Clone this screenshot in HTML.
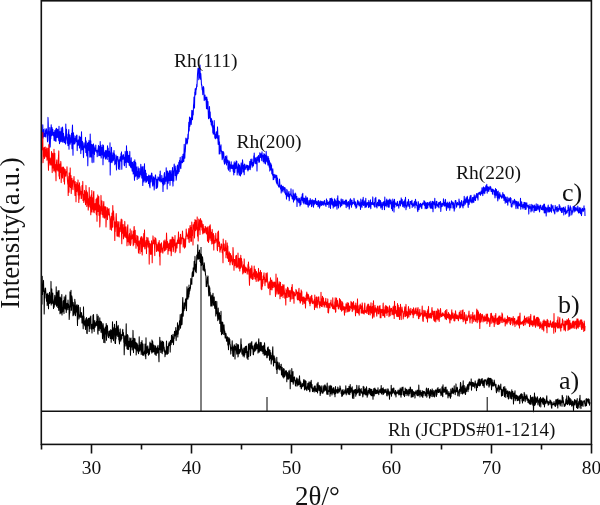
<!DOCTYPE html>
<html><head><meta charset="utf-8"><style>
html,body{margin:0;padding:0;background:#fff;}
svg{display:block;}
text{font-family:"Liberation Serif","Times New Roman",serif;fill:#111;}
</style></head><body>
<svg width="600" height="505" viewBox="0 0 600 505">
<rect width="600" height="505" fill="#fff"/>
<g stroke="#000" stroke-width="1">
<line x1="201" y1="247" x2="201" y2="411"/>
<line x1="267" y1="397" x2="267" y2="411"/>
<line x1="487.2" y1="397" x2="487.2" y2="411"/>
</g>
<g fill="none" stroke-width="1.05" stroke-linejoin="round">
<polyline stroke="#0000ff" points="42.0,134.6 42.2,137.6 42.5,134.7 42.8,124.7 43.0,138.3 43.2,135.6 43.5,129.6 43.8,136.5 44.0,135.2 44.2,134.9 44.5,133.3 44.8,136.6 45.0,128.7 45.2,132.3 45.5,130.4 45.8,137.1 46.0,133.7 46.2,131.8 46.5,128.8 46.8,132.1 47.0,133.8 47.2,132.1 47.5,141.8 47.8,140.1 48.0,117.4 48.2,122.5 48.5,133.0 48.8,131.6 49.0,135.5 49.2,135.6 49.5,147.3 49.8,127.6 50.0,132.1 50.2,147.0 50.5,138.5 50.8,138.7 51.0,131.5 51.2,124.7 51.5,135.8 51.8,135.5 52.0,127.4 52.2,130.8 52.5,134.6 52.8,129.3 53.0,134.5 53.2,135.7 53.5,135.4 53.8,132.2 54.0,138.9 54.2,140.8 54.5,137.4 54.8,130.5 55.0,140.0 55.2,132.5 55.5,140.9 55.8,129.1 56.0,141.3 56.2,135.6 56.5,128.2 56.8,133.9 57.0,136.2 57.2,137.6 57.5,130.0 57.8,129.3 58.0,137.3 58.2,133.3 58.5,137.6 58.8,140.8 59.0,126.2 59.2,137.8 59.5,143.7 59.8,134.6 60.0,131.5 60.2,141.0 60.5,138.0 60.8,142.0 61.0,134.5 61.2,127.7 61.5,136.0 61.8,134.1 62.0,141.5 62.2,138.0 62.5,127.1 62.8,129.7 63.0,142.4 63.2,141.2 63.5,133.3 63.8,137.2 64.0,139.9 64.2,140.1 64.5,142.7 64.8,139.0 65.0,136.9 65.2,136.0 65.5,144.0 65.8,124.1 66.0,136.9 66.2,138.0 66.5,129.3 66.8,140.0 67.0,134.1 67.2,143.3 67.5,137.4 67.8,142.3 68.0,145.7 68.2,140.7 68.5,133.2 68.8,129.5 69.0,149.2 69.2,138.1 69.5,134.7 69.8,139.8 70.0,137.8 70.2,144.2 70.5,139.4 70.8,139.3 71.0,135.1 71.2,142.2 71.5,133.3 71.8,143.6 72.0,148.8 72.2,130.7 72.5,125.1 72.8,143.7 73.0,155.3 73.2,134.2 73.5,132.8 73.8,143.9 74.0,135.5 74.2,137.6 74.5,138.6 74.8,144.0 75.0,138.5 75.2,142.7 75.5,140.1 75.8,136.2 76.0,139.4 76.2,135.8 76.5,141.6 76.8,135.0 77.0,135.3 77.2,150.6 77.5,141.7 77.8,141.8 78.0,145.3 78.2,139.9 78.5,141.1 78.8,145.2 79.0,144.5 79.2,136.0 79.5,148.0 79.8,139.7 80.0,137.1 80.2,138.2 80.5,141.4 80.8,153.6 81.0,137.1 81.2,145.2 81.5,131.7 81.8,144.6 82.0,150.1 82.2,143.5 82.5,141.4 82.8,146.7 83.0,149.7 83.2,149.6 83.5,157.6 83.8,147.3 84.0,142.7 84.2,145.7 84.5,146.2 84.8,147.4 85.0,146.8 85.2,148.2 85.5,137.4 85.8,152.4 86.0,144.3 86.2,140.9 86.5,151.8 86.8,156.0 87.0,151.3 87.2,149.5 87.5,143.2 87.8,165.8 88.0,154.2 88.2,142.4 88.5,144.7 88.8,149.9 89.0,140.4 89.2,150.6 89.5,147.1 89.8,157.1 90.0,155.7 90.2,134.1 90.5,150.5 90.8,140.8 91.0,156.9 91.2,151.5 91.5,153.8 91.8,144.4 92.0,161.5 92.2,162.7 92.5,144.7 92.8,153.2 93.0,147.2 93.2,151.1 93.5,143.9 93.8,162.3 94.0,145.8 94.2,149.8 94.5,154.5 94.8,147.9 95.0,150.3 95.2,148.5 95.5,151.1 95.8,145.1 96.0,149.5 96.2,150.9 96.5,150.2 96.8,152.6 97.0,150.6 97.2,156.8 97.5,150.6 97.8,151.7 98.0,148.7 98.2,149.6 98.5,145.4 98.8,155.8 99.0,146.2 99.2,148.6 99.5,155.1 99.8,155.5 100.0,150.9 100.2,141.5 100.5,155.8 100.8,154.9 101.0,145.3 101.2,158.1 101.5,149.6 101.8,147.2 102.0,154.4 102.2,152.9 102.5,155.2 102.8,144.7 103.0,164.7 103.2,150.8 103.5,145.4 103.8,158.1 104.0,152.5 104.2,156.5 104.5,152.8 104.8,154.5 105.0,156.4 105.2,150.7 105.5,159.1 105.8,152.5 106.0,150.3 106.2,155.9 106.5,158.1 106.8,154.3 107.0,150.7 107.2,159.4 107.5,145.7 107.8,150.0 108.0,156.3 108.2,148.3 108.5,156.5 108.8,156.1 109.0,161.7 109.2,151.3 109.5,153.1 109.8,158.8 110.0,142.7 110.2,174.9 110.5,153.1 110.8,153.0 111.0,162.3 111.2,157.2 111.5,147.3 111.8,161.3 112.0,162.7 112.2,155.3 112.5,156.3 112.8,160.9 113.0,152.9 113.2,160.8 113.5,159.5 113.8,154.6 114.0,150.6 114.2,157.4 114.5,153.8 114.8,164.7 115.0,159.8 115.2,163.6 115.5,160.0 115.8,160.9 116.0,155.0 116.2,163.4 116.5,170.0 116.8,158.1 117.0,156.6 117.2,159.2 117.5,157.5 117.8,156.4 118.0,161.3 118.2,159.0 118.5,169.1 118.8,160.9 119.0,162.9 119.2,166.6 119.5,159.5 119.8,169.5 120.0,157.8 120.2,156.8 120.5,159.4 120.8,160.8 121.0,153.5 121.2,161.3 121.5,151.9 121.8,169.3 122.0,160.8 122.2,157.5 122.5,155.8 122.8,158.6 123.0,159.3 123.2,154.5 123.5,155.0 123.8,158.9 124.0,156.9 124.2,164.9 124.5,165.8 124.8,159.3 125.0,161.7 125.2,151.4 125.5,162.4 125.8,158.5 126.0,161.3 126.2,167.5 126.5,145.7 126.8,160.0 127.0,152.4 127.2,162.0 127.5,151.4 127.8,156.2 128.0,160.3 128.2,162.8 128.5,160.0 128.8,155.4 129.0,156.9 129.2,165.2 129.5,160.5 129.8,151.4 130.0,165.8 130.2,163.9 130.5,166.9 130.8,160.7 131.0,167.7 131.2,157.8 131.5,167.4 131.8,162.0 132.0,169.0 132.2,171.3 132.5,162.2 132.8,166.4 133.0,167.2 133.2,173.9 133.5,171.5 133.8,161.2 134.0,170.7 134.2,172.5 134.5,180.3 134.8,159.7 135.0,166.2 135.2,176.7 135.5,162.2 135.8,163.3 136.0,172.9 136.2,175.9 136.5,166.9 136.8,173.7 137.0,171.6 137.2,179.4 137.5,171.3 137.8,176.9 138.0,166.8 138.2,170.8 138.5,171.5 138.8,178.4 139.0,175.5 139.2,168.4 139.5,176.4 139.8,177.0 140.0,172.4 140.2,171.8 140.5,172.3 140.8,164.3 141.0,174.7 141.2,175.1 141.5,169.3 141.8,178.1 142.0,166.9 142.2,171.5 142.5,172.1 142.8,185.4 143.0,166.4 143.2,178.1 143.5,180.3 143.8,177.5 144.0,181.9 144.2,170.4 144.5,163.8 144.8,180.2 145.0,169.9 145.2,174.7 145.5,170.3 145.8,182.3 146.0,181.4 146.2,173.2 146.5,181.9 146.8,177.9 147.0,176.7 147.2,177.8 147.5,176.6 147.8,181.0 148.0,179.5 148.2,176.2 148.5,183.4 148.8,175.0 149.0,179.8 149.2,180.6 149.5,186.2 149.8,175.9 150.0,187.8 150.2,179.6 150.5,177.7 150.8,175.3 151.0,181.9 151.2,179.2 151.5,173.2 151.8,173.1 152.0,176.1 152.2,175.5 152.5,184.7 152.8,186.1 153.0,183.5 153.2,180.9 153.5,176.8 153.8,179.3 154.0,183.6 154.2,190.0 154.5,183.7 154.8,177.5 155.0,179.2 155.2,176.5 155.5,174.9 155.8,178.0 156.0,180.0 156.2,188.4 156.5,179.2 156.8,185.9 157.0,188.0 157.2,179.3 157.5,187.2 157.8,182.6 158.0,176.8 158.2,180.2 158.5,179.0 158.8,177.7 159.0,177.9 159.2,179.6 159.5,181.1 159.8,174.3 160.0,178.8 160.2,171.1 160.5,180.1 160.8,181.9 161.0,179.6 161.2,180.2 161.5,181.7 161.8,175.4 162.0,177.5 162.2,181.3 162.5,183.7 162.8,180.7 163.0,191.5 163.2,178.2 163.5,183.6 163.8,185.0 164.0,177.9 164.2,174.4 164.5,172.6 164.8,179.3 165.0,184.1 165.2,179.8 165.5,179.3 165.8,176.5 166.0,181.2 166.2,167.7 166.5,179.4 166.8,178.3 167.0,171.3 167.2,188.9 167.5,171.1 167.8,172.5 168.0,171.9 168.2,183.2 168.5,173.2 168.8,180.8 169.0,180.3 169.2,178.6 169.5,170.8 169.8,174.1 170.0,185.2 170.2,170.5 170.5,172.7 170.8,175.8 171.0,180.4 171.2,177.5 171.5,179.8 171.8,170.7 172.0,180.4 172.2,178.3 172.5,167.6 172.8,182.7 173.0,186.1 173.2,171.0 173.5,174.7 173.8,181.0 174.0,166.8 174.2,164.1 174.5,167.2 174.8,170.5 175.0,170.1 175.2,175.6 175.5,173.6 175.8,166.1 176.0,174.4 176.2,180.3 176.5,176.7 176.8,175.3 177.0,170.4 177.2,174.5 177.5,165.0 177.8,172.6 178.0,168.3 178.2,173.4 178.5,169.9 178.8,162.3 179.0,167.4 179.2,171.8 179.5,160.6 179.8,162.7 180.0,161.2 180.2,157.3 180.5,167.8 180.8,168.7 181.0,165.8 181.2,162.7 181.5,160.8 181.8,161.4 182.0,156.4 182.2,162.8 182.5,162.6 182.8,161.3 183.0,154.2 183.2,156.0 183.5,154.1 183.8,161.6 184.0,153.8 184.2,144.3 184.5,153.0 184.8,158.2 185.0,152.3 185.2,152.1 185.5,147.7 185.8,138.4 186.0,138.1 186.2,139.4 186.5,142.9 186.8,143.6 187.0,144.1 187.2,138.9 187.5,142.9 187.8,136.8 188.0,134.0 188.2,139.0 188.5,130.7 188.8,122.3 189.0,127.6 189.2,130.9 189.5,117.0 189.8,126.5 190.0,125.2 190.2,119.5 190.5,117.9 190.8,120.5 191.0,118.8 191.2,124.5 191.5,119.6 191.8,110.4 192.0,111.8 192.2,116.5 192.5,119.7 192.8,112.2 193.0,110.4 193.2,114.9 193.5,105.9 193.8,103.1 194.0,97.1 194.2,99.0 194.5,108.0 194.8,92.0 195.0,96.0 195.2,88.7 195.5,93.1 195.8,94.4 196.0,88.1 196.2,89.9 196.5,87.6 196.8,84.1 197.0,86.8 197.2,80.7 197.5,74.2 197.8,70.7 198.0,68.4 198.2,72.2 198.5,68.1 198.8,79.8 199.0,76.4 199.2,68.7 199.5,69.0 199.8,78.0 200.0,65.1 200.2,72.2 200.5,79.3 200.8,73.6 201.0,77.1 201.2,79.4 201.5,85.2 201.8,84.8 202.0,87.6 202.2,89.9 202.5,89.1 202.8,94.7 203.0,88.5 203.2,86.8 203.5,86.5 203.8,88.1 204.0,93.4 204.2,100.6 204.5,98.2 204.8,96.1 205.0,95.1 205.2,98.2 205.5,99.6 205.8,99.9 206.0,97.3 206.2,102.0 206.5,108.8 206.8,97.0 207.0,105.5 207.2,98.9 207.5,108.9 207.8,106.1 208.0,101.6 208.2,111.1 208.5,118.8 208.8,112.9 209.0,117.9 209.2,113.9 209.5,106.5 209.8,117.9 210.0,115.2 210.2,111.9 210.5,121.7 210.8,120.6 211.0,118.3 211.2,124.7 211.5,118.7 211.8,125.6 212.0,120.1 212.2,126.9 212.5,121.2 212.8,132.5 213.0,128.4 213.2,134.0 213.5,125.8 213.8,128.0 214.0,134.1 214.2,120.6 214.5,128.1 214.8,137.4 215.0,135.9 215.2,138.8 215.5,134.4 215.8,138.6 216.0,134.2 216.2,132.3 216.5,131.7 216.8,137.1 217.0,137.8 217.2,138.1 217.5,126.9 217.8,133.8 218.0,140.4 218.2,144.4 218.5,141.5 218.8,140.8 219.0,135.6 219.2,153.9 219.5,141.7 219.8,153.6 220.0,153.7 220.2,149.0 220.5,146.1 220.8,149.6 221.0,144.8 221.2,151.3 221.5,150.8 221.8,153.6 222.0,155.9 222.2,159.8 222.5,151.7 222.8,158.3 223.0,151.4 223.2,151.7 223.5,153.6 223.8,152.8 224.0,161.6 224.2,162.1 224.5,164.2 224.8,159.4 225.0,161.2 225.2,158.1 225.5,156.2 225.8,163.3 226.0,162.9 226.2,157.6 226.5,165.0 226.8,155.8 227.0,162.6 227.2,161.2 227.5,161.9 227.8,160.0 228.0,168.7 228.2,167.4 228.5,170.2 228.8,166.2 229.0,160.7 229.2,164.7 229.5,161.7 229.8,168.5 230.0,171.7 230.2,168.3 230.5,164.8 230.8,165.9 231.0,168.3 231.2,161.8 231.5,168.2 231.8,168.5 232.0,165.7 232.2,166.3 232.5,168.7 232.8,164.9 233.0,165.0 233.2,171.3 233.5,169.3 233.8,175.0 234.0,164.8 234.2,161.8 234.5,172.3 234.8,172.4 235.0,166.0 235.2,163.3 235.5,168.8 235.8,162.4 236.0,167.8 236.2,160.9 236.5,168.3 236.8,161.2 237.0,168.3 237.2,174.9 237.5,168.3 237.8,172.2 238.0,167.0 238.2,166.0 238.5,163.8 238.8,173.2 239.0,169.1 239.2,175.3 239.5,165.0 239.8,168.5 240.0,169.6 240.2,174.4 240.5,175.9 240.8,166.9 241.0,165.1 241.2,162.9 241.5,173.9 241.8,168.8 242.0,166.7 242.2,168.8 242.5,159.7 242.8,162.7 243.0,172.1 243.2,170.2 243.5,169.2 243.8,165.0 244.0,170.6 244.2,174.8 244.5,164.0 244.8,168.4 245.0,166.7 245.2,169.4 245.5,168.1 245.8,167.5 246.0,164.8 246.2,167.8 246.5,165.6 246.8,167.1 247.0,167.3 247.2,169.7 247.5,165.3 247.8,166.1 248.0,170.9 248.2,166.2 248.5,165.9 248.8,169.6 249.0,167.4 249.2,166.5 249.5,166.7 249.8,161.4 250.0,167.0 250.2,169.8 250.5,166.9 250.8,159.2 251.0,165.3 251.2,160.9 251.5,162.9 251.8,163.8 252.0,158.9 252.2,167.3 252.5,162.2 252.8,164.8 253.0,163.9 253.2,166.0 253.5,165.2 253.8,155.9 254.0,160.7 254.2,153.1 254.5,158.6 254.8,162.3 255.0,162.7 255.2,163.8 255.5,157.9 255.8,160.1 256.0,159.2 256.2,163.0 256.5,163.9 256.8,157.3 257.0,171.0 257.2,158.2 257.5,156.8 257.8,159.9 258.0,160.3 258.2,159.5 258.5,155.4 258.8,162.3 259.0,157.5 259.2,162.3 259.5,161.7 259.8,152.7 260.0,153.6 260.2,153.4 260.5,157.4 260.8,156.7 261.0,157.3 261.2,153.7 261.5,157.7 261.8,160.8 262.0,151.8 262.2,155.5 262.5,156.9 262.8,155.6 263.0,155.3 263.2,161.7 263.5,160.1 263.8,158.7 264.0,153.5 264.2,163.3 264.5,157.4 264.8,154.5 265.0,155.5 265.2,155.3 265.5,164.0 265.8,158.2 266.0,158.1 266.2,151.4 266.5,161.1 266.8,155.8 267.0,156.1 267.2,162.1 267.5,158.0 267.8,163.9 268.0,165.3 268.2,156.6 268.5,162.4 268.8,158.4 269.0,163.7 269.2,167.3 269.5,160.7 269.8,171.1 270.0,165.0 270.2,162.8 270.5,166.6 270.8,170.0 271.0,163.8 271.2,168.8 271.5,165.1 271.8,173.8 272.0,171.2 272.2,170.0 272.5,175.2 272.8,168.7 273.0,172.1 273.2,179.7 273.5,174.2 273.8,179.4 274.0,176.4 274.2,174.2 274.5,176.2 274.8,177.7 275.0,176.7 275.2,175.9 275.5,176.5 275.8,174.8 276.0,180.1 276.2,181.4 276.5,182.9 276.8,175.6 277.0,183.9 277.2,181.8 277.5,178.0 277.8,183.0 278.0,185.5 278.2,185.0 278.5,186.0 278.8,187.0 279.0,187.2 279.2,184.8 279.5,179.1 279.8,183.4 280.0,187.0 280.2,184.9 280.5,188.7 280.8,189.3 281.0,187.4 281.2,193.1 281.5,185.0 281.8,190.9 282.0,187.0 282.2,186.4 282.5,190.7 282.8,187.4 283.0,192.0 283.2,186.3 283.5,190.0 283.8,187.7 284.0,189.7 284.2,189.5 284.5,187.6 284.8,193.0 285.0,187.7 285.2,188.6 285.5,194.3 285.8,194.7 286.0,194.0 286.2,193.3 286.5,199.1 286.8,189.2 287.0,190.7 287.2,190.2 287.5,195.8 287.8,194.2 288.0,196.8 288.2,196.6 288.5,193.3 288.8,191.8 289.0,191.4 289.2,200.8 289.5,197.4 289.8,196.5 290.0,194.0 290.2,194.6 290.5,194.3 290.8,194.5 291.0,188.8 291.2,195.6 291.5,194.9 291.8,196.9 292.0,196.9 292.2,198.9 292.5,196.6 292.8,199.0 293.0,189.7 293.2,194.0 293.5,202.1 293.8,194.0 294.0,196.8 294.2,199.7 294.5,195.4 294.8,200.1 295.0,194.2 295.2,193.0 295.5,194.8 295.8,194.0 296.0,198.7 296.2,198.0 296.5,200.0 296.8,196.3 297.0,206.4 297.2,199.2 297.5,199.4 297.8,200.9 298.0,199.1 298.2,198.1 298.5,200.2 298.8,202.6 299.0,202.0 299.2,202.8 299.5,198.8 299.8,198.3 300.0,206.0 300.2,199.9 300.5,201.9 300.8,202.7 301.0,204.6 301.2,197.1 301.5,199.5 301.8,199.7 302.0,200.1 302.2,194.4 302.5,200.8 302.8,193.2 303.0,202.0 303.2,202.7 303.5,202.9 303.8,198.1 304.0,204.0 304.2,199.1 304.5,198.2 304.8,198.9 305.0,199.3 305.2,202.1 305.5,203.9 305.8,196.0 306.0,200.3 306.2,204.2 306.5,202.4 306.8,203.2 307.0,197.9 307.2,204.5 307.5,197.8 307.8,202.5 308.0,205.7 308.2,207.1 308.5,203.5 308.8,204.5 309.0,200.6 309.2,200.9 309.5,205.3 309.8,202.3 310.0,202.0 310.2,198.6 310.5,202.7 310.8,204.1 311.0,200.3 311.2,201.1 311.5,206.6 311.8,202.9 312.0,201.7 312.2,199.5 312.5,200.9 312.8,201.9 313.0,206.1 313.2,201.0 313.5,207.2 313.8,200.2 314.0,201.7 314.2,204.8 314.5,202.0 314.8,200.5 315.0,202.3 315.2,203.8 315.5,198.3 315.8,202.1 316.0,202.4 316.2,201.7 316.5,204.6 316.8,201.3 317.0,201.8 317.2,202.9 317.5,204.7 317.8,202.2 318.0,206.7 318.2,200.5 318.5,206.1 318.8,200.7 319.0,202.4 319.2,203.8 319.5,208.1 319.8,205.2 320.0,201.9 320.2,206.2 320.5,202.4 320.8,200.9 321.0,204.1 321.2,203.2 321.5,205.4 321.8,201.6 322.0,203.9 322.2,204.6 322.5,203.7 322.8,202.9 323.0,201.2 323.2,205.3 323.5,203.3 323.8,204.2 324.0,202.1 324.2,203.0 324.5,200.4 324.8,203.2 325.0,204.9 325.2,203.2 325.5,205.2 325.8,203.8 326.0,206.5 326.2,202.5 326.5,198.9 326.8,204.1 327.0,202.6 327.2,200.5 327.5,204.6 327.8,203.7 328.0,204.1 328.2,202.2 328.5,203.5 328.8,203.6 329.0,207.5 329.2,201.3 329.5,203.0 329.8,203.9 330.0,198.6 330.2,198.9 330.5,208.5 330.8,198.5 331.0,204.5 331.2,200.9 331.5,201.1 331.8,198.0 332.0,200.7 332.2,205.0 332.5,199.5 332.8,204.5 333.0,203.8 333.2,208.1 333.5,201.8 333.8,206.2 334.0,205.2 334.2,202.3 334.5,198.8 334.8,206.8 335.0,199.5 335.2,201.8 335.5,205.2 335.8,205.8 336.0,200.9 336.2,202.9 336.5,202.3 336.8,206.0 337.0,209.3 337.2,198.4 337.5,205.3 337.8,195.8 338.0,203.0 338.2,200.2 338.5,208.0 338.8,203.4 339.0,201.1 339.2,201.7 339.5,201.5 339.8,203.5 340.0,202.6 340.2,204.7 340.5,206.9 340.8,204.8 341.0,199.9 341.2,198.9 341.5,201.1 341.8,205.7 342.0,202.2 342.2,201.3 342.5,203.3 342.8,199.4 343.0,200.1 343.2,204.3 343.5,202.2 343.8,201.9 344.0,203.8 344.2,201.5 344.5,201.3 344.8,201.8 345.0,204.5 345.2,203.2 345.5,200.0 345.8,202.2 346.0,204.6 346.2,207.7 346.5,200.1 346.8,203.9 347.0,202.3 347.2,205.1 347.5,204.1 347.8,206.7 348.0,204.3 348.2,201.6 348.5,201.6 348.8,204.0 349.0,204.0 349.2,209.1 349.5,207.2 349.8,200.0 350.0,203.9 350.2,199.6 350.5,198.8 350.8,204.9 351.0,204.4 351.2,200.4 351.5,207.2 351.8,200.5 352.0,200.1 352.2,204.7 352.5,203.6 352.8,202.6 353.0,202.8 353.2,203.6 353.5,202.7 353.8,202.6 354.0,198.2 354.2,199.6 354.5,204.6 354.8,201.2 355.0,204.4 355.2,206.2 355.5,202.1 355.8,203.8 356.0,208.3 356.2,204.8 356.5,207.7 356.8,206.9 357.0,205.0 357.2,202.8 357.5,200.9 357.8,200.3 358.0,204.3 358.2,204.3 358.5,202.6 358.8,205.2 359.0,201.6 359.2,205.9 359.5,203.2 359.8,203.0 360.0,203.1 360.2,202.9 360.5,209.4 360.8,199.1 361.0,203.6 361.2,206.3 361.5,205.0 361.8,202.4 362.0,207.6 362.2,200.5 362.5,199.9 362.8,204.6 363.0,199.5 363.2,197.2 363.5,205.4 363.8,205.1 364.0,205.1 364.2,202.0 364.5,203.7 364.8,200.8 365.0,207.6 365.2,205.3 365.5,205.1 365.8,198.3 366.0,205.3 366.2,207.1 366.5,206.4 366.8,205.3 367.0,203.3 367.2,202.4 367.5,204.8 367.8,204.3 368.0,203.9 368.2,202.5 368.5,207.6 368.8,200.4 369.0,203.3 369.2,201.9 369.5,206.0 369.8,207.0 370.0,206.5 370.2,205.3 370.5,199.8 370.8,208.7 371.0,204.7 371.2,203.1 371.5,203.5 371.8,202.6 372.0,204.5 372.2,204.2 372.5,202.5 372.8,196.9 373.0,203.4 373.2,204.7 373.5,204.8 373.8,203.1 374.0,204.6 374.2,206.1 374.5,202.3 374.8,207.2 375.0,198.6 375.2,200.3 375.5,201.2 375.8,197.3 376.0,201.0 376.2,206.7 376.5,206.7 376.8,203.8 377.0,207.9 377.2,204.2 377.5,202.3 377.8,204.2 378.0,203.2 378.2,205.4 378.5,199.8 378.8,206.1 379.0,202.4 379.2,205.8 379.5,199.7 379.8,202.6 380.0,203.8 380.2,205.9 380.5,200.6 380.8,207.9 381.0,204.9 381.2,202.3 381.5,206.7 381.8,203.9 382.0,206.6 382.2,209.6 382.5,205.6 382.8,202.4 383.0,202.6 383.2,205.2 383.5,204.4 383.8,201.6 384.0,202.0 384.2,205.4 384.5,209.7 384.8,197.1 385.0,205.6 385.2,203.2 385.5,205.7 385.8,206.0 386.0,203.9 386.2,201.2 386.5,200.3 386.8,199.1 387.0,206.9 387.2,203.3 387.5,202.5 387.8,203.1 388.0,200.4 388.2,204.6 388.5,207.2 388.8,206.7 389.0,199.9 389.2,207.3 389.5,201.9 389.8,199.0 390.0,200.8 390.2,201.4 390.5,203.9 390.8,201.3 391.0,200.1 391.2,203.2 391.5,208.8 391.8,202.1 392.0,205.1 392.2,204.1 392.5,210.7 392.8,199.1 393.0,206.7 393.2,200.7 393.5,202.5 393.8,203.7 394.0,212.0 394.2,202.1 394.5,199.2 394.8,207.3 395.0,201.9 395.2,203.4 395.5,203.9 395.8,204.3 396.0,203.6 396.2,204.7 396.5,205.0 396.8,206.2 397.0,203.0 397.2,202.2 397.5,201.4 397.8,205.6 398.0,203.9 398.2,205.5 398.5,205.4 398.8,208.3 399.0,204.6 399.2,206.0 399.5,201.0 399.8,201.4 400.0,203.3 400.2,201.0 400.5,205.9 400.8,200.7 401.0,204.3 401.2,197.9 401.5,201.3 401.8,203.3 402.0,203.5 402.2,199.6 402.5,204.4 402.8,206.6 403.0,205.8 403.2,202.5 403.5,202.7 403.8,201.2 404.0,205.8 404.2,207.8 404.5,202.9 404.8,199.9 405.0,204.7 405.2,206.0 405.5,197.3 405.8,204.6 406.0,209.7 406.2,206.3 406.5,205.6 406.8,205.2 407.0,206.9 407.2,201.8 407.5,202.1 407.8,205.3 408.0,202.5 408.2,204.9 408.5,199.4 408.8,206.2 409.0,206.4 409.2,204.4 409.5,204.7 409.8,208.4 410.0,201.5 410.2,202.0 410.5,201.5 410.8,203.2 411.0,201.7 411.2,204.4 411.5,202.7 411.8,200.6 412.0,200.4 412.2,207.4 412.5,204.1 412.8,203.7 413.0,204.4 413.2,204.1 413.5,206.2 413.8,205.8 414.0,202.9 414.2,202.3 414.5,201.6 414.8,201.2 415.0,207.9 415.2,202.0 415.5,199.3 415.8,202.2 416.0,202.4 416.2,205.2 416.5,202.1 416.8,205.7 417.0,205.4 417.2,207.6 417.5,209.9 417.8,211.6 418.0,207.8 418.2,201.5 418.5,203.4 418.8,205.1 419.0,209.7 419.2,206.1 419.5,207.5 419.8,204.0 420.0,205.9 420.2,206.3 420.5,203.3 420.8,206.4 421.0,207.2 421.2,204.1 421.5,207.0 421.8,208.6 422.0,204.6 422.2,204.5 422.5,203.7 422.8,202.9 423.0,204.9 423.2,203.5 423.5,203.7 423.8,202.6 424.0,200.6 424.2,202.2 424.5,205.4 424.8,201.5 425.0,202.9 425.2,208.7 425.5,207.4 425.8,202.8 426.0,206.1 426.2,202.9 426.5,208.7 426.8,203.1 427.0,204.8 427.2,208.1 427.5,202.5 427.8,207.9 428.0,202.5 428.2,205.2 428.5,203.9 428.8,204.4 429.0,205.0 429.2,204.4 429.5,202.1 429.8,206.8 430.0,206.5 430.2,207.9 430.5,208.2 430.8,201.3 431.0,207.9 431.2,208.0 431.5,203.3 431.8,207.3 432.0,208.4 432.2,203.3 432.5,201.2 432.8,203.8 433.0,211.8 433.2,205.3 433.5,201.7 433.8,204.1 434.0,202.2 434.2,203.7 434.5,205.0 434.8,198.3 435.0,205.7 435.2,208.4 435.5,204.3 435.8,203.8 436.0,207.6 436.2,201.6 436.5,201.7 436.8,201.3 437.0,204.4 437.2,205.8 437.5,204.6 437.8,206.2 438.0,206.9 438.2,206.1 438.5,202.8 438.8,204.2 439.0,208.0 439.2,202.2 439.5,204.2 439.8,203.8 440.0,204.4 440.2,202.2 440.5,201.5 440.8,211.4 441.0,207.3 441.2,203.1 441.5,204.8 441.8,206.6 442.0,204.1 442.2,206.5 442.5,203.4 442.8,204.0 443.0,204.7 443.2,203.8 443.5,198.7 443.8,205.0 444.0,205.6 444.2,206.2 444.5,202.4 444.8,205.8 445.0,205.5 445.2,200.5 445.5,199.4 445.8,206.2 446.0,202.6 446.2,207.5 446.5,210.4 446.8,203.5 447.0,203.2 447.2,205.0 447.5,206.7 447.8,202.1 448.0,208.1 448.2,207.5 448.5,206.7 448.8,203.6 449.0,207.3 449.2,207.2 449.5,202.0 449.8,210.3 450.0,204.2 450.2,205.9 450.5,203.7 450.8,206.0 451.0,207.9 451.2,202.9 451.5,200.8 451.8,203.8 452.0,201.6 452.2,203.0 452.5,204.6 452.8,204.7 453.0,208.1 453.2,202.3 453.5,205.7 453.8,203.5 454.0,208.2 454.2,211.1 454.5,205.5 454.8,208.9 455.0,203.3 455.2,200.5 455.5,201.3 455.8,200.5 456.0,202.0 456.2,203.8 456.5,207.3 456.8,206.1 457.0,205.5 457.2,203.2 457.5,202.4 457.8,204.2 458.0,204.4 458.2,204.7 458.5,204.9 458.8,203.6 459.0,199.0 459.2,201.0 459.5,201.7 459.8,208.0 460.0,202.5 460.2,205.3 460.5,207.2 460.8,204.3 461.0,202.4 461.2,202.6 461.5,200.6 461.8,203.9 462.0,205.9 462.2,204.5 462.5,204.9 462.8,204.7 463.0,207.9 463.2,201.1 463.5,203.1 463.8,204.4 464.0,205.7 464.2,196.3 464.5,201.0 464.8,201.7 465.0,199.6 465.2,204.3 465.5,202.6 465.8,201.0 466.0,197.7 466.2,198.5 466.5,199.2 466.8,202.8 467.0,198.5 467.2,196.2 467.5,197.7 467.8,199.8 468.0,205.5 468.2,207.5 468.5,199.8 468.8,203.4 469.0,204.4 469.2,204.1 469.5,200.4 469.8,197.3 470.0,199.3 470.2,195.7 470.5,200.9 470.8,202.1 471.0,195.2 471.2,199.8 471.5,200.5 471.8,202.8 472.0,203.0 472.2,201.4 472.5,197.5 472.8,198.1 473.0,202.0 473.2,197.2 473.5,198.5 473.8,202.4 474.0,198.6 474.2,194.7 474.5,197.2 474.8,199.4 475.0,197.2 475.2,200.4 475.5,200.5 475.8,195.5 476.0,195.7 476.2,196.5 476.5,193.5 476.8,197.4 477.0,195.8 477.2,198.0 477.5,194.3 477.8,193.5 478.0,200.1 478.2,193.1 478.5,193.6 478.8,193.1 479.0,194.0 479.2,192.2 479.5,194.2 479.8,192.3 480.0,192.9 480.2,194.6 480.5,195.2 480.8,194.4 481.0,191.1 481.2,193.8 481.5,192.2 481.8,192.0 482.0,187.7 482.2,193.5 482.5,191.2 482.8,195.6 483.0,192.6 483.2,187.9 483.5,186.9 483.8,192.9 484.0,187.3 484.2,190.9 484.5,187.9 484.8,193.6 485.0,188.1 485.2,191.3 485.5,190.5 485.8,185.7 486.0,185.9 486.2,190.3 486.5,186.5 486.8,184.3 487.0,189.7 487.2,193.2 487.5,186.8 487.8,190.6 488.0,186.9 488.2,190.9 488.5,187.1 488.8,191.4 489.0,189.6 489.2,188.0 489.5,189.3 489.8,187.5 490.0,186.3 490.2,186.6 490.5,189.3 490.8,187.0 491.0,191.0 491.2,191.4 491.5,191.4 491.8,189.1 492.0,190.7 492.2,190.7 492.5,194.3 492.8,189.1 493.0,190.3 493.2,190.9 493.5,191.3 493.8,189.9 494.0,190.4 494.2,194.8 494.5,190.7 494.8,194.9 495.0,197.9 495.2,196.1 495.5,188.5 495.8,195.2 496.0,194.6 496.2,194.9 496.5,189.6 496.8,195.8 497.0,191.3 497.2,197.5 497.5,197.1 497.8,201.0 498.0,193.7 498.2,191.0 498.5,197.6 498.8,197.3 499.0,194.3 499.2,198.9 499.5,197.3 499.8,192.5 500.0,195.0 500.2,194.9 500.5,195.9 500.8,196.8 501.0,194.7 501.2,196.1 501.5,198.2 501.8,196.7 502.0,196.3 502.2,196.4 502.5,197.0 502.8,192.6 503.0,198.0 503.2,195.1 503.5,198.1 503.8,194.3 504.0,200.5 504.2,198.9 504.5,195.0 504.8,199.1 505.0,196.7 505.2,203.3 505.5,200.2 505.8,197.0 506.0,199.7 506.2,199.2 506.5,202.5 506.8,200.5 507.0,201.0 507.2,197.0 507.5,201.9 507.8,205.3 508.0,201.8 508.2,200.2 508.5,200.8 508.8,198.1 509.0,201.1 509.2,198.0 509.5,201.0 509.8,200.0 510.0,199.0 510.2,202.7 510.5,197.6 510.8,201.4 511.0,198.3 511.2,206.4 511.5,206.9 511.8,204.2 512.0,206.9 512.2,203.8 512.5,203.7 512.8,201.4 513.0,200.3 513.2,203.0 513.5,201.5 513.8,201.8 514.0,204.9 514.2,202.9 514.5,199.3 514.8,202.9 515.0,201.6 515.2,202.9 515.5,200.9 515.8,206.9 516.0,208.7 516.2,201.2 516.5,205.8 516.8,205.7 517.0,201.6 517.2,204.6 517.5,208.0 517.8,206.7 518.0,208.7 518.2,201.7 518.5,202.9 518.8,205.6 519.0,205.8 519.2,205.0 519.5,204.1 519.8,204.1 520.0,203.6 520.2,206.3 520.5,198.3 520.8,209.3 521.0,204.0 521.2,201.8 521.5,206.8 521.8,201.9 522.0,206.5 522.2,204.6 522.5,207.1 522.8,207.7 523.0,209.0 523.2,204.5 523.5,205.0 523.8,205.8 524.0,202.3 524.2,207.4 524.5,206.3 524.8,202.6 525.0,209.1 525.2,209.5 525.5,202.8 525.8,207.6 526.0,209.3 526.2,208.3 526.5,203.8 526.8,202.7 527.0,206.0 527.2,205.1 527.5,206.4 527.8,206.2 528.0,207.8 528.2,205.1 528.5,206.1 528.8,214.1 529.0,206.2 529.2,208.5 529.5,207.4 529.8,207.2 530.0,204.4 530.2,208.1 530.5,206.6 530.8,208.9 531.0,212.0 531.2,207.3 531.5,208.8 531.8,204.3 532.0,207.2 532.2,210.9 532.5,206.8 532.8,205.4 533.0,207.6 533.2,206.6 533.5,206.5 533.8,206.2 534.0,212.2 534.2,205.0 534.5,206.2 534.8,205.8 535.0,210.4 535.2,206.6 535.5,210.6 535.8,207.8 536.0,207.3 536.2,203.7 536.5,210.5 536.8,208.8 537.0,208.5 537.2,207.2 537.5,206.5 537.8,204.3 538.0,209.9 538.2,208.3 538.5,206.7 538.8,206.0 539.0,207.9 539.2,207.4 539.5,211.9 539.8,209.7 540.0,206.2 540.2,205.0 540.5,207.2 540.8,205.5 541.0,208.0 541.2,208.9 541.5,209.5 541.8,209.0 542.0,207.5 542.2,209.5 542.5,205.8 542.8,207.8 543.0,210.1 543.2,208.8 543.5,204.9 543.8,205.2 544.0,204.1 544.2,212.8 544.5,204.3 544.8,207.9 545.0,212.9 545.2,211.0 545.5,211.7 545.8,207.1 546.0,210.3 546.2,216.1 546.5,208.4 546.8,209.5 547.0,207.7 547.2,208.5 547.5,209.5 547.8,212.1 548.0,206.3 548.2,205.0 548.5,208.7 548.8,209.2 549.0,212.3 549.2,210.5 549.5,207.2 549.8,210.2 550.0,211.6 550.2,209.6 550.5,208.0 550.8,210.6 551.0,208.0 551.2,204.2 551.5,212.3 551.8,205.7 552.0,208.2 552.2,208.2 552.5,208.2 552.8,208.4 553.0,205.4 553.2,210.4 553.5,209.2 553.8,209.3 554.0,211.9 554.2,212.0 554.5,212.6 554.8,213.9 555.0,210.4 555.2,205.4 555.5,209.9 555.8,209.4 556.0,209.5 556.2,207.9 556.5,207.2 556.8,211.4 557.0,211.9 557.2,206.6 557.5,210.9 557.8,209.1 558.0,208.5 558.2,211.3 558.5,209.4 558.8,208.2 559.0,209.7 559.2,204.6 559.5,208.1 559.8,208.5 560.0,206.1 560.2,210.1 560.5,210.4 560.8,208.2 561.0,209.3 561.2,211.4 561.5,212.4 561.8,207.8 562.0,210.6 562.2,212.4 562.5,209.7 562.8,207.9 563.0,207.9 563.2,209.0 563.5,207.2 563.8,215.0 564.0,208.4 564.2,210.9 564.5,210.4 564.8,211.5 565.0,209.0 565.2,206.7 565.5,214.1 565.8,209.8 566.0,210.3 566.2,210.5 566.5,213.2 566.8,211.9 567.0,213.0 567.2,212.1 567.5,210.4 567.8,210.7 568.0,208.2 568.2,205.2 568.5,209.5 568.8,207.4 569.0,216.6 569.2,214.0 569.5,213.1 569.8,208.7 570.0,215.3 570.2,205.8 570.5,207.1 570.8,208.2 571.0,207.7 571.2,210.5 571.5,210.7 571.8,215.0 572.0,212.7 572.2,213.3 572.5,211.3 572.8,209.9 573.0,208.5 573.2,206.4 573.5,208.1 573.8,209.3 574.0,212.2 574.2,206.0 574.5,206.8 574.8,210.9 575.0,207.7 575.2,211.2 575.5,209.3 575.8,208.4 576.0,207.0 576.2,210.1 576.5,208.5 576.8,208.8 577.0,208.8 577.2,210.9 577.5,210.8 577.8,206.1 578.0,210.0 578.2,211.4 578.5,213.0 578.8,212.4 579.0,211.0 579.2,207.5 579.5,208.5 579.8,212.8 580.0,208.7 580.2,213.0 580.5,213.7 580.8,207.8 581.0,211.6 581.2,210.2 581.5,215.6 581.8,212.6 582.0,209.2 582.2,211.5 582.5,208.2 582.8,210.1 583.0,211.0 583.2,210.9 583.5,211.3 583.8,208.2 584.0,205.8 584.2,209.6 584.5,208.2 584.8,208.7 585.0,215.9"/>
<polyline stroke="#ff0000" points="42.0,150.3 42.2,145.6 42.5,146.6 42.8,132.6 43.0,162.7 43.2,158.4 43.5,148.3 43.8,156.3 44.0,153.1 44.2,147.5 44.5,158.5 44.8,149.8 45.0,149.9 45.2,146.9 45.5,155.9 45.8,152.3 46.0,157.1 46.2,149.3 46.5,154.7 46.8,147.8 47.0,160.2 47.2,155.9 47.5,157.2 47.8,158.0 48.0,148.4 48.2,161.2 48.5,170.3 48.8,144.9 49.0,144.5 49.2,146.3 49.5,162.9 49.8,158.3 50.0,165.1 50.2,162.9 50.5,159.7 50.8,160.4 51.0,157.6 51.2,165.0 51.5,151.5 51.8,156.7 52.0,161.5 52.2,172.6 52.5,155.1 52.8,153.2 53.0,157.1 53.2,168.0 53.5,159.9 53.8,171.0 54.0,149.2 54.2,170.2 54.5,169.8 54.8,153.2 55.0,164.3 55.2,171.9 55.5,164.4 55.8,171.0 56.0,180.7 56.2,166.5 56.5,163.0 56.8,159.9 57.0,170.0 57.2,164.5 57.5,164.9 57.8,165.7 58.0,171.1 58.2,159.7 58.5,156.8 58.8,150.9 59.0,176.1 59.2,168.7 59.5,178.8 59.8,168.7 60.0,164.0 60.2,172.6 60.5,169.1 60.8,161.4 61.0,164.2 61.2,182.6 61.5,173.2 61.8,174.0 62.0,169.5 62.2,167.0 62.5,178.1 62.8,171.6 63.0,167.5 63.2,172.0 63.5,167.1 63.8,174.8 64.0,181.5 64.2,168.4 64.5,184.1 64.8,170.2 65.0,176.0 65.2,169.6 65.5,174.1 65.8,176.2 66.0,173.2 66.2,171.7 66.5,172.2 66.8,171.5 67.0,166.8 67.2,175.9 67.5,180.7 67.8,184.4 68.0,182.9 68.2,195.4 68.5,181.3 68.8,176.3 69.0,192.3 69.2,172.9 69.5,186.8 69.8,174.1 70.0,183.2 70.2,167.9 70.5,187.5 70.8,180.6 71.0,175.5 71.2,193.6 71.5,187.7 71.8,183.2 72.0,178.2 72.2,183.2 72.5,182.7 72.8,188.9 73.0,189.7 73.2,180.2 73.5,181.3 73.8,181.7 74.0,176.5 74.2,181.9 74.5,185.5 74.8,191.0 75.0,195.5 75.2,181.6 75.5,191.0 75.8,184.6 76.0,201.7 76.2,187.9 76.5,191.8 76.8,182.5 77.0,183.7 77.2,190.7 77.5,187.1 77.8,192.3 78.0,179.9 78.2,194.9 78.5,184.8 78.8,202.5 79.0,189.4 79.2,198.9 79.5,182.7 79.8,195.0 80.0,186.6 80.2,189.5 80.5,193.2 80.8,191.2 81.0,195.3 81.2,198.7 81.5,198.4 81.8,193.7 82.0,185.6 82.2,189.5 82.5,193.8 82.8,181.4 83.0,200.5 83.2,194.2 83.5,194.4 83.8,202.5 84.0,200.9 84.2,198.2 84.5,190.4 84.8,199.3 85.0,199.7 85.2,191.9 85.5,204.7 85.8,201.4 86.0,185.4 86.2,199.3 86.5,190.5 86.8,206.4 87.0,204.4 87.2,192.1 87.5,193.8 87.8,200.4 88.0,198.4 88.2,210.1 88.5,205.1 88.8,198.7 89.0,204.4 89.2,187.6 89.5,203.1 89.8,206.9 90.0,200.2 90.2,197.0 90.5,205.4 90.8,214.7 91.0,203.5 91.2,195.0 91.5,211.9 91.8,190.5 92.0,206.1 92.2,199.3 92.5,209.2 92.8,197.9 93.0,212.1 93.2,205.7 93.5,192.8 93.8,191.3 94.0,202.2 94.2,212.8 94.5,205.4 94.8,205.2 95.0,203.5 95.2,209.9 95.5,207.8 95.8,207.4 96.0,199.4 96.2,213.6 96.5,214.9 96.8,198.0 97.0,221.3 97.2,211.3 97.5,203.8 97.8,194.9 98.0,211.5 98.2,211.1 98.5,203.9 98.8,196.5 99.0,215.3 99.2,204.6 99.5,205.6 99.8,227.0 100.0,222.6 100.2,215.4 100.5,206.6 100.8,213.9 101.0,195.4 101.2,210.9 101.5,205.6 101.8,202.5 102.0,200.9 102.2,214.6 102.5,212.0 102.8,212.7 103.0,217.3 103.2,206.9 103.5,204.7 103.8,201.5 104.0,210.9 104.2,218.1 104.5,212.6 104.8,217.9 105.0,206.6 105.2,211.4 105.5,209.8 105.8,207.0 106.0,226.9 106.2,220.9 106.5,210.9 106.8,211.2 107.0,215.9 107.2,207.5 107.5,219.6 107.8,209.0 108.0,215.1 108.2,211.2 108.5,214.9 108.8,209.8 109.0,208.6 109.2,212.7 109.5,214.7 109.8,217.4 110.0,220.0 110.2,229.4 110.5,225.2 110.8,218.7 111.0,225.1 111.2,216.5 111.5,230.2 111.8,224.8 112.0,213.1 112.2,226.6 112.5,227.2 112.8,205.6 113.0,217.9 113.2,219.9 113.5,211.0 113.8,216.6 114.0,217.6 114.2,226.9 114.5,225.8 114.8,240.5 115.0,221.9 115.2,231.8 115.5,225.3 115.8,226.7 116.0,218.1 116.2,213.6 116.5,221.0 116.8,230.6 117.0,235.9 117.2,230.1 117.5,229.6 117.8,221.6 118.0,236.5 118.2,235.5 118.5,224.1 118.8,227.3 119.0,221.7 119.2,237.1 119.5,230.7 119.8,227.9 120.0,231.2 120.2,231.6 120.5,226.5 120.8,221.6 121.0,221.6 121.2,219.0 121.5,232.7 121.8,243.7 122.0,219.8 122.2,231.3 122.5,233.2 122.8,224.8 123.0,232.3 123.2,224.5 123.5,238.8 123.8,228.0 124.0,232.4 124.2,236.2 124.5,229.6 124.8,221.4 125.0,229.3 125.2,237.4 125.5,232.4 125.8,234.5 126.0,226.7 126.2,234.4 126.5,238.1 126.8,234.1 127.0,245.7 127.2,233.0 127.5,228.1 127.8,224.8 128.0,241.8 128.2,234.6 128.5,241.3 128.8,238.1 129.0,245.3 129.2,243.3 129.5,233.6 129.8,237.7 130.0,242.8 130.2,228.9 130.5,245.4 130.8,244.1 131.0,242.9 131.2,235.9 131.5,239.2 131.8,230.8 132.0,238.1 132.2,234.4 132.5,238.6 132.8,235.3 133.0,240.2 133.2,245.8 133.5,231.0 133.8,244.6 134.0,227.3 134.2,226.5 134.5,238.9 134.8,239.8 135.0,242.6 135.2,230.3 135.5,240.0 135.8,241.3 136.0,248.2 136.2,240.3 136.5,244.2 136.8,235.4 137.0,240.3 137.2,238.9 137.5,246.0 137.8,236.0 138.0,237.1 138.2,245.7 138.5,253.1 138.8,244.9 139.0,244.5 139.2,240.8 139.5,249.5 139.8,246.4 140.0,253.6 140.2,245.4 140.5,238.0 140.8,240.3 141.0,238.0 141.2,236.5 141.5,251.6 141.8,249.0 142.0,237.0 142.2,254.9 142.5,246.0 142.8,238.9 143.0,247.0 143.2,244.4 143.5,240.3 143.8,233.5 144.0,245.2 144.2,246.8 144.5,229.9 144.8,248.5 145.0,248.9 145.2,242.6 145.5,246.1 145.8,243.8 146.0,240.6 146.2,243.5 146.5,253.6 146.8,237.2 147.0,247.2 147.2,246.9 147.5,241.8 147.8,243.4 148.0,237.8 148.2,241.1 148.5,246.2 148.8,248.1 149.0,241.0 149.2,264.1 149.5,243.0 149.8,247.2 150.0,245.1 150.2,244.2 150.5,254.1 150.8,243.8 151.0,254.4 151.2,253.4 151.5,240.7 151.8,252.8 152.0,243.1 152.2,262.8 152.5,244.7 152.8,241.5 153.0,235.9 153.2,239.6 153.5,243.7 153.8,241.4 154.0,240.1 154.2,243.2 154.5,246.0 154.8,255.6 155.0,237.4 155.2,244.1 155.5,241.8 155.8,238.6 156.0,240.1 156.2,242.2 156.5,251.5 156.8,246.3 157.0,244.4 157.2,251.0 157.5,249.1 157.8,246.2 158.0,249.7 158.2,242.7 158.5,251.1 158.8,250.2 159.0,245.1 159.2,240.5 159.5,256.2 159.8,248.0 160.0,264.9 160.2,243.7 160.5,252.3 160.8,245.0 161.0,248.9 161.2,252.2 161.5,242.8 161.8,246.8 162.0,248.2 162.2,248.0 162.5,250.7 162.8,253.1 163.0,252.0 163.2,248.7 163.5,245.2 163.8,240.7 164.0,242.9 164.2,244.1 164.5,250.9 164.8,244.9 165.0,239.9 165.2,250.4 165.5,242.3 165.8,242.5 166.0,245.5 166.2,249.4 166.5,233.0 166.8,240.3 167.0,247.6 167.2,244.5 167.5,241.6 167.8,243.4 168.0,254.2 168.2,243.8 168.5,250.3 168.8,250.7 169.0,243.7 169.2,248.6 169.5,243.6 169.8,242.6 170.0,239.7 170.2,250.9 170.5,243.7 170.8,242.7 171.0,239.5 171.2,255.8 171.5,249.8 171.8,244.9 172.0,241.6 172.2,236.9 172.5,247.0 172.8,246.9 173.0,237.4 173.2,251.6 173.5,249.4 173.8,239.6 174.0,241.8 174.2,242.5 174.5,245.6 174.8,243.8 175.0,235.5 175.2,252.7 175.5,246.1 175.8,251.3 176.0,251.1 176.2,242.9 176.5,245.9 176.8,247.9 177.0,248.0 177.2,242.7 177.5,240.1 177.8,243.6 178.0,238.9 178.2,240.1 178.5,231.9 178.8,243.4 179.0,237.2 179.2,239.7 179.5,242.3 179.8,244.2 180.0,252.7 180.2,243.3 180.5,234.3 180.8,242.7 181.0,238.6 181.2,243.9 181.5,237.8 181.8,237.5 182.0,238.5 182.2,237.7 182.5,231.0 182.8,237.2 183.0,240.6 183.2,247.1 183.5,238.8 183.8,238.2 184.0,243.2 184.2,242.8 184.5,248.3 184.8,242.6 185.0,239.1 185.2,246.3 185.5,247.1 185.8,236.0 186.0,239.2 186.2,229.0 186.5,235.9 186.8,232.8 187.0,236.2 187.2,234.5 187.5,235.9 187.8,236.0 188.0,239.0 188.2,237.3 188.5,232.8 188.8,228.6 189.0,241.9 189.2,242.6 189.5,232.3 189.8,237.5 190.0,226.0 190.2,225.5 190.5,232.2 190.8,241.3 191.0,227.5 191.2,228.3 191.5,241.2 191.8,222.1 192.0,235.5 192.2,234.4 192.5,230.4 192.8,232.2 193.0,245.0 193.2,224.7 193.5,228.8 193.8,228.9 194.0,226.3 194.2,222.5 194.5,238.0 194.8,230.4 195.0,219.6 195.2,225.0 195.5,230.7 195.8,230.4 196.0,220.3 196.2,227.2 196.5,228.7 196.8,229.2 197.0,228.9 197.2,216.9 197.5,236.1 197.8,227.2 198.0,235.5 198.2,240.9 198.5,224.8 198.8,219.0 199.0,230.1 199.2,224.6 199.5,223.2 199.8,220.1 200.0,234.6 200.2,223.4 200.5,218.5 200.8,223.6 201.0,220.0 201.2,227.1 201.5,224.2 201.8,221.0 202.0,229.9 202.2,223.6 202.5,231.0 202.8,234.0 203.0,225.7 203.2,224.5 203.5,229.1 203.8,233.0 204.0,228.6 204.2,229.6 204.5,229.0 204.8,231.0 205.0,232.9 205.2,226.2 205.5,227.6 205.8,230.6 206.0,227.2 206.2,231.6 206.5,233.9 206.8,231.2 207.0,228.4 207.2,227.8 207.5,241.1 207.8,236.8 208.0,226.6 208.2,228.3 208.5,242.5 208.8,240.9 209.0,233.9 209.2,239.4 209.5,226.0 209.8,233.9 210.0,237.9 210.2,224.8 210.5,230.5 210.8,238.8 211.0,240.8 211.2,232.2 211.5,237.0 211.8,243.9 212.0,234.0 212.2,229.4 212.5,236.2 212.8,234.7 213.0,243.6 213.2,238.1 213.5,233.5 213.8,250.1 214.0,235.6 214.2,240.8 214.5,242.2 214.8,243.1 215.0,240.3 215.2,242.7 215.5,239.7 215.8,233.2 216.0,239.6 216.2,240.1 216.5,240.5 216.8,242.5 217.0,239.0 217.2,249.1 217.5,250.7 217.8,232.0 218.0,243.5 218.2,240.2 218.5,231.0 218.8,246.5 219.0,241.7 219.2,243.2 219.5,242.1 219.8,251.2 220.0,252.2 220.2,247.7 220.5,250.0 220.8,246.3 221.0,247.8 221.2,243.7 221.5,247.9 221.8,244.4 222.0,250.1 222.2,252.6 222.5,250.3 222.8,254.9 223.0,262.7 223.2,239.1 223.5,249.9 223.8,247.3 224.0,248.1 224.2,243.9 224.5,251.1 224.8,249.8 225.0,248.3 225.2,250.4 225.5,249.0 225.8,240.6 226.0,257.7 226.2,251.1 226.5,248.2 226.8,254.6 227.0,250.1 227.2,242.9 227.5,258.2 227.8,245.9 228.0,253.3 228.2,255.2 228.5,261.4 228.8,260.9 229.0,256.1 229.2,251.8 229.5,253.7 229.8,261.3 230.0,265.0 230.2,259.1 230.5,253.5 230.8,261.9 231.0,255.3 231.2,255.4 231.5,256.2 231.8,260.7 232.0,259.4 232.2,263.1 232.5,264.8 232.8,261.2 233.0,247.6 233.2,251.0 233.5,260.2 233.8,259.3 234.0,270.3 234.2,259.9 234.5,259.5 234.8,265.0 235.0,265.8 235.2,259.8 235.5,263.4 235.8,255.9 236.0,257.0 236.2,267.7 236.5,255.2 236.8,266.6 237.0,265.6 237.2,266.3 237.5,267.2 237.8,265.7 238.0,253.0 238.2,258.6 238.5,260.7 238.8,268.2 239.0,258.6 239.2,260.9 239.5,262.7 239.8,270.9 240.0,258.0 240.2,258.6 240.5,268.2 240.8,255.3 241.0,267.2 241.2,263.6 241.5,258.5 241.8,264.2 242.0,261.6 242.2,267.3 242.5,268.4 242.8,273.9 243.0,267.0 243.2,267.7 243.5,264.7 243.8,267.5 244.0,272.7 244.2,258.9 244.5,271.2 244.8,265.8 245.0,268.8 245.2,270.2 245.5,272.8 245.8,270.1 246.0,267.3 246.2,270.8 246.5,269.6 246.8,268.7 247.0,270.8 247.2,274.1 247.5,270.8 247.8,271.0 248.0,264.5 248.2,270.0 248.5,262.1 248.8,274.3 249.0,266.7 249.2,277.2 249.5,285.2 249.8,269.7 250.0,277.8 250.2,273.7 250.5,269.4 250.8,268.2 251.0,274.9 251.2,278.8 251.5,274.2 251.8,265.8 252.0,268.1 252.2,271.9 252.5,279.4 252.8,274.6 253.0,274.9 253.2,279.1 253.5,272.8 253.8,273.4 254.0,273.2 254.2,266.0 254.5,276.4 254.8,276.3 255.0,279.0 255.2,269.3 255.5,271.1 255.8,279.2 256.0,276.6 256.2,281.5 256.5,271.5 256.8,276.5 257.0,272.7 257.2,277.3 257.5,273.8 257.8,278.6 258.0,281.2 258.2,279.5 258.5,268.4 258.8,281.0 259.0,278.9 259.2,272.3 259.5,273.2 259.8,277.3 260.0,280.0 260.2,275.5 260.5,270.4 260.8,279.1 261.0,278.7 261.2,289.0 261.5,272.5 261.8,289.7 262.0,286.3 262.2,280.0 262.5,286.2 262.8,279.4 263.0,283.4 263.2,276.0 263.5,279.7 263.8,275.0 264.0,272.7 264.2,278.6 264.5,277.0 264.8,282.6 265.0,285.8 265.2,279.6 265.5,280.7 265.8,281.4 266.0,273.3 266.2,282.1 266.5,281.1 266.8,281.0 267.0,276.5 267.2,272.7 267.5,280.5 267.8,283.1 268.0,287.7 268.2,287.0 268.5,288.5 268.8,283.9 269.0,287.5 269.2,281.7 269.5,285.5 269.8,286.9 270.0,294.7 270.2,284.2 270.5,277.8 270.8,289.4 271.0,280.2 271.2,283.5 271.5,282.6 271.8,280.1 272.0,290.0 272.2,286.9 272.5,281.9 272.8,285.0 273.0,283.0 273.2,287.6 273.5,283.5 273.8,282.0 274.0,282.7 274.2,283.7 274.5,287.0 274.8,282.0 275.0,285.7 275.2,288.2 275.5,296.4 275.8,290.3 276.0,274.0 276.2,284.7 276.5,285.4 276.8,288.6 277.0,294.1 277.2,290.7 277.5,277.9 277.8,289.2 278.0,288.5 278.2,289.9 278.5,294.1 278.8,283.8 279.0,293.3 279.2,281.7 279.5,289.1 279.8,290.6 280.0,298.8 280.2,286.4 280.5,282.3 280.8,292.5 281.0,287.0 281.2,296.4 281.5,287.0 281.8,286.4 282.0,295.5 282.2,290.7 282.5,294.7 282.8,284.6 283.0,297.6 283.2,288.4 283.5,294.4 283.8,286.9 284.0,284.7 284.2,290.2 284.5,292.1 284.8,298.1 285.0,293.1 285.2,294.7 285.5,294.6 285.8,304.9 286.0,288.7 286.2,297.4 286.5,291.7 286.8,293.5 287.0,290.2 287.2,297.4 287.5,287.5 287.8,287.3 288.0,292.0 288.2,288.2 288.5,296.0 288.8,297.0 289.0,290.2 289.2,296.6 289.5,290.8 289.8,293.4 290.0,293.7 290.2,301.4 290.5,293.9 290.8,290.2 291.0,290.3 291.2,299.0 291.5,287.4 291.8,292.4 292.0,292.9 292.2,284.5 292.5,292.7 292.8,298.7 293.0,295.7 293.2,291.2 293.5,297.8 293.8,297.1 294.0,303.3 294.2,292.2 294.5,293.8 294.8,295.6 295.0,294.9 295.2,295.9 295.5,295.2 295.8,293.0 296.0,289.4 296.2,293.7 296.5,290.5 296.8,291.9 297.0,294.0 297.2,298.3 297.5,299.8 297.8,292.3 298.0,297.8 298.2,299.8 298.5,296.5 298.8,290.3 299.0,288.3 299.2,300.1 299.5,300.7 299.8,298.2 300.0,293.0 300.2,303.1 300.5,302.2 300.8,297.3 301.0,296.7 301.2,289.9 301.5,300.7 301.8,291.4 302.0,300.6 302.2,300.9 302.5,298.4 302.8,304.4 303.0,297.0 303.2,300.7 303.5,301.6 303.8,299.5 304.0,296.9 304.2,303.5 304.5,300.4 304.8,298.1 305.0,298.3 305.2,299.5 305.5,308.1 305.8,299.6 306.0,298.3 306.2,295.2 306.5,294.6 306.8,292.1 307.0,300.5 307.2,299.8 307.5,295.7 307.8,294.0 308.0,298.6 308.2,297.9 308.5,294.8 308.8,301.3 309.0,300.8 309.2,300.1 309.5,303.4 309.8,297.9 310.0,305.8 310.2,296.6 310.5,302.7 310.8,303.2 311.0,299.8 311.2,302.2 311.5,295.9 311.8,295.2 312.0,300.3 312.2,298.3 312.5,303.5 312.8,301.4 313.0,303.8 313.2,302.7 313.5,302.3 313.8,301.9 314.0,300.2 314.2,299.9 314.5,309.6 314.8,295.0 315.0,301.2 315.2,305.8 315.5,303.6 315.8,307.5 316.0,304.2 316.2,297.3 316.5,301.0 316.8,296.9 317.0,306.2 317.2,308.0 317.5,300.8 317.8,304.6 318.0,301.0 318.2,297.1 318.5,301.0 318.8,296.7 319.0,300.6 319.2,303.7 319.5,305.7 319.8,308.0 320.0,301.8 320.2,304.0 320.5,304.8 320.8,305.4 321.0,292.3 321.2,300.3 321.5,306.4 321.8,299.1 322.0,304.4 322.2,306.7 322.5,296.3 322.8,302.9 323.0,304.6 323.2,303.8 323.5,297.9 323.8,305.2 324.0,301.8 324.2,307.1 324.5,305.7 324.8,302.0 325.0,304.8 325.2,301.5 325.5,301.5 325.8,298.2 326.0,303.4 326.2,307.4 326.5,304.8 326.8,304.4 327.0,302.1 327.2,302.5 327.5,307.4 327.8,298.9 328.0,312.5 328.2,304.4 328.5,313.0 328.8,309.2 329.0,303.2 329.2,307.6 329.5,305.9 329.8,306.7 330.0,308.0 330.2,302.9 330.5,302.7 330.8,303.5 331.0,300.0 331.2,304.2 331.5,306.1 331.8,306.2 332.0,306.0 332.2,303.8 332.5,308.4 332.8,297.7 333.0,304.0 333.2,304.2 333.5,308.9 333.8,308.1 334.0,308.6 334.2,305.7 334.5,309.2 334.8,301.9 335.0,306.0 335.2,297.8 335.5,312.2 335.8,311.8 336.0,303.6 336.2,302.7 336.5,298.0 336.8,300.2 337.0,306.5 337.2,305.5 337.5,300.5 337.8,304.2 338.0,303.7 338.2,308.0 338.5,308.9 338.8,305.4 339.0,306.7 339.2,306.3 339.5,298.6 339.8,307.1 340.0,306.2 340.2,309.3 340.5,299.7 340.8,309.4 341.0,304.2 341.2,307.6 341.5,311.2 341.8,301.2 342.0,301.8 342.2,310.5 342.5,302.5 342.8,303.2 343.0,309.1 343.2,306.1 343.5,309.8 343.8,308.1 344.0,306.9 344.2,310.7 344.5,315.2 344.8,306.7 345.0,312.6 345.2,311.3 345.5,307.6 345.8,308.9 346.0,303.7 346.2,305.0 346.5,308.3 346.8,307.1 347.0,312.1 347.2,302.5 347.5,306.3 347.8,305.1 348.0,306.9 348.2,311.8 348.5,303.0 348.8,310.7 349.0,305.4 349.2,306.4 349.5,311.3 349.8,306.6 350.0,310.1 350.2,308.1 350.5,307.1 350.8,306.4 351.0,301.4 351.2,305.0 351.5,308.4 351.8,308.6 352.0,302.4 352.2,311.6 352.5,310.0 352.8,303.2 353.0,304.2 353.2,309.9 353.5,301.6 353.8,305.3 354.0,307.9 354.2,307.6 354.5,307.9 354.8,309.6 355.0,305.3 355.2,306.4 355.5,315.8 355.8,303.1 356.0,306.7 356.2,308.7 356.5,306.0 356.8,312.8 357.0,308.7 357.2,311.2 357.5,298.9 357.8,312.8 358.0,312.7 358.2,305.8 358.5,313.3 358.8,309.5 359.0,312.0 359.2,315.2 359.5,309.0 359.8,305.0 360.0,308.7 360.2,304.1 360.5,305.8 360.8,306.0 361.0,306.2 361.2,313.1 361.5,311.9 361.8,305.6 362.0,313.0 362.2,302.9 362.5,306.6 362.8,308.5 363.0,313.3 363.2,311.7 363.5,310.7 363.8,313.8 364.0,311.7 364.2,314.1 364.5,306.4 364.8,303.1 365.0,307.7 365.2,312.3 365.5,310.2 365.8,312.5 366.0,311.9 366.2,311.2 366.5,312.3 366.8,306.8 367.0,313.4 367.2,305.8 367.5,309.1 367.8,304.4 368.0,311.3 368.2,304.0 368.5,314.6 368.8,304.8 369.0,310.5 369.2,309.1 369.5,306.5 369.8,314.2 370.0,308.2 370.2,315.0 370.5,306.1 370.8,306.9 371.0,302.7 371.2,311.8 371.5,313.1 371.8,310.7 372.0,309.3 372.2,306.6 372.5,318.3 372.8,312.6 373.0,303.4 373.2,308.9 373.5,300.7 373.8,315.7 374.0,317.1 374.2,315.3 374.5,309.9 374.8,308.0 375.0,305.2 375.2,312.1 375.5,307.5 375.8,308.9 376.0,308.0 376.2,309.2 376.5,313.5 376.8,316.3 377.0,310.9 377.2,310.4 377.5,306.4 377.8,306.0 378.0,306.6 378.2,313.6 378.5,311.3 378.8,313.9 379.0,312.0 379.2,309.1 379.5,306.1 379.8,309.3 380.0,305.5 380.2,317.7 380.5,311.6 380.8,309.3 381.0,317.7 381.2,309.3 381.5,312.7 381.8,310.2 382.0,312.0 382.2,309.5 382.5,312.5 382.8,315.8 383.0,306.4 383.2,303.0 383.5,315.6 383.8,311.5 384.0,314.0 384.2,309.9 384.5,316.4 384.8,317.4 385.0,306.9 385.2,313.4 385.5,308.9 385.8,305.4 386.0,310.0 386.2,313.1 386.5,306.3 386.8,306.6 387.0,315.4 387.2,311.2 387.5,312.5 387.8,307.1 388.0,308.8 388.2,311.6 388.5,311.8 388.8,311.7 389.0,316.7 389.2,311.8 389.5,305.8 389.8,308.1 390.0,311.0 390.2,315.7 390.5,308.8 390.8,309.8 391.0,311.1 391.2,308.7 391.5,308.3 391.8,310.4 392.0,314.7 392.2,312.9 392.5,310.3 392.8,312.7 393.0,306.8 393.2,314.8 393.5,313.9 393.8,312.4 394.0,305.7 394.2,318.4 394.5,301.2 394.8,307.9 395.0,308.2 395.2,313.8 395.5,306.2 395.8,312.2 396.0,310.9 396.2,310.4 396.5,314.4 396.8,316.4 397.0,312.9 397.2,310.6 397.5,303.6 397.8,316.6 398.0,310.5 398.2,305.2 398.5,312.1 398.8,316.6 399.0,311.1 399.2,307.6 399.5,319.4 399.8,313.8 400.0,312.9 400.2,315.2 400.5,304.3 400.8,311.5 401.0,311.2 401.2,319.6 401.5,309.9 401.8,309.9 402.0,307.1 402.2,309.0 402.5,311.2 402.8,312.8 403.0,311.2 403.2,318.9 403.5,313.6 403.8,314.2 404.0,316.7 404.2,314.2 404.5,310.2 404.8,306.7 405.0,313.3 405.2,309.2 405.5,316.6 405.8,309.4 406.0,304.4 406.2,312.3 406.5,315.8 406.8,311.4 407.0,312.8 407.2,312.7 407.5,318.1 407.8,313.2 408.0,312.1 408.2,310.1 408.5,306.6 408.8,317.1 409.0,316.2 409.2,309.0 409.5,314.4 409.8,313.4 410.0,311.0 410.2,311.3 410.5,315.0 410.8,308.2 411.0,310.6 411.2,312.1 411.5,312.4 411.8,311.7 412.0,313.2 412.2,314.3 412.5,309.4 412.8,312.8 413.0,310.7 413.2,317.7 413.5,307.7 413.8,311.8 414.0,315.0 414.2,311.6 414.5,311.5 414.8,310.8 415.0,313.7 415.2,308.7 415.5,312.4 415.8,312.4 416.0,307.7 416.2,313.7 416.5,311.2 416.8,313.9 417.0,315.8 417.2,314.1 417.5,308.8 417.8,314.0 418.0,307.5 418.2,310.3 418.5,318.7 418.8,313.0 419.0,318.4 419.2,312.5 419.5,313.1 419.8,309.3 420.0,316.4 420.2,312.5 420.5,315.4 420.8,314.7 421.0,315.1 421.2,314.4 421.5,313.2 421.8,313.3 422.0,311.0 422.2,306.1 422.5,315.1 422.8,320.6 423.0,317.2 423.2,321.5 423.5,315.2 423.8,310.3 424.0,310.3 424.2,316.2 424.5,314.9 424.8,313.2 425.0,316.3 425.2,310.8 425.5,315.6 425.8,312.9 426.0,314.4 426.2,318.0 426.5,313.5 426.8,318.7 427.0,318.5 427.2,311.4 427.5,322.0 427.8,309.8 428.0,313.8 428.2,316.7 428.5,306.4 428.8,317.7 429.0,318.1 429.2,313.9 429.5,315.2 429.8,315.0 430.0,313.6 430.2,318.0 430.5,313.1 430.8,314.2 431.0,315.7 431.2,317.3 431.5,318.2 431.8,309.4 432.0,307.6 432.2,314.1 432.5,314.4 432.8,310.9 433.0,315.6 433.2,316.8 433.5,316.0 433.8,320.3 434.0,311.2 434.2,314.8 434.5,321.3 434.8,317.1 435.0,311.0 435.2,315.5 435.5,318.9 435.8,322.0 436.0,317.1 436.2,318.9 436.5,311.1 436.8,314.1 437.0,319.0 437.2,311.7 437.5,314.8 437.8,308.7 438.0,320.1 438.2,314.6 438.5,317.0 438.8,310.0 439.0,310.7 439.2,321.4 439.5,314.0 439.8,313.4 440.0,317.0 440.2,317.2 440.5,308.6 440.8,312.0 441.0,315.5 441.2,315.4 441.5,316.6 441.8,314.0 442.0,314.5 442.2,316.2 442.5,313.2 442.8,312.7 443.0,313.7 443.2,315.6 443.5,315.1 443.8,314.0 444.0,314.8 444.2,315.5 444.5,316.8 444.8,317.0 445.0,311.4 445.2,319.1 445.5,310.4 445.8,317.7 446.0,313.5 446.2,317.9 446.5,319.6 446.8,309.6 447.0,318.1 447.2,317.0 447.5,314.5 447.8,317.4 448.0,314.4 448.2,316.5 448.5,312.6 448.8,318.8 449.0,318.2 449.2,318.8 449.5,314.1 449.8,322.5 450.0,323.0 450.2,316.1 450.5,315.0 450.8,315.0 451.0,318.8 451.2,319.9 451.5,314.0 451.8,309.7 452.0,318.1 452.2,316.4 452.5,317.2 452.8,318.3 453.0,312.9 453.2,316.9 453.5,315.7 453.8,318.0 454.0,320.8 454.2,316.7 454.5,313.9 454.8,321.0 455.0,319.2 455.2,316.1 455.5,310.7 455.8,313.9 456.0,317.3 456.2,318.7 456.5,315.1 456.8,318.4 457.0,314.8 457.2,315.5 457.5,318.7 457.8,316.0 458.0,317.4 458.2,319.9 458.5,320.8 458.8,315.0 459.0,316.2 459.2,312.6 459.5,312.6 459.8,318.1 460.0,315.3 460.2,310.8 460.5,318.9 460.8,314.3 461.0,316.1 461.2,318.5 461.5,318.5 461.8,317.0 462.0,310.5 462.2,319.1 462.5,315.2 462.8,312.5 463.0,309.8 463.2,321.7 463.5,317.7 463.8,317.6 464.0,319.3 464.2,317.0 464.5,312.4 464.8,319.6 465.0,320.7 465.2,319.1 465.5,322.5 465.8,323.8 466.0,314.7 466.2,315.9 466.5,320.4 466.8,318.0 467.0,318.2 467.2,320.6 467.5,320.0 467.8,316.0 468.0,317.9 468.2,315.2 468.5,316.9 468.8,313.8 469.0,311.0 469.2,315.9 469.5,315.6 469.8,320.6 470.0,322.9 470.2,317.7 470.5,319.2 470.8,315.6 471.0,314.6 471.2,316.8 471.5,316.8 471.8,318.7 472.0,318.1 472.2,323.3 472.5,317.1 472.8,312.3 473.0,318.2 473.2,315.6 473.5,318.5 473.8,321.6 474.0,315.7 474.2,317.6 474.5,319.6 474.8,314.8 475.0,318.6 475.2,319.8 475.5,320.7 475.8,321.6 476.0,319.8 476.2,319.3 476.5,313.4 476.8,309.1 477.0,314.8 477.2,322.8 477.5,318.5 477.8,310.6 478.0,316.7 478.2,319.3 478.5,312.0 478.8,320.1 479.0,314.4 479.2,321.7 479.5,318.3 479.8,328.5 480.0,313.8 480.2,319.2 480.5,313.4 480.8,322.1 481.0,318.7 481.2,321.4 481.5,318.7 481.8,314.5 482.0,316.2 482.2,314.3 482.5,315.0 482.8,318.9 483.0,322.0 483.2,321.3 483.5,320.2 483.8,316.7 484.0,320.2 484.2,315.7 484.5,319.3 484.8,321.4 485.0,318.0 485.2,317.1 485.5,317.2 485.8,320.7 486.0,317.7 486.2,314.0 486.5,317.4 486.8,315.3 487.0,323.7 487.2,318.9 487.5,314.0 487.8,319.7 488.0,321.3 488.2,320.2 488.5,317.7 488.8,319.4 489.0,319.9 489.2,322.3 489.5,320.2 489.8,326.5 490.0,318.4 490.2,324.1 490.5,319.2 490.8,313.5 491.0,315.3 491.2,313.2 491.5,313.5 491.8,323.2 492.0,317.1 492.2,321.3 492.5,316.4 492.8,319.3 493.0,315.9 493.2,322.2 493.5,318.6 493.8,317.9 494.0,318.9 494.2,326.6 494.5,321.0 494.8,322.3 495.0,315.5 495.2,317.4 495.5,320.6 495.8,313.5 496.0,324.0 496.2,320.6 496.5,319.6 496.8,319.1 497.0,319.0 497.2,318.1 497.5,324.4 497.8,322.1 498.0,323.9 498.2,318.9 498.5,317.0 498.8,324.4 499.0,316.0 499.2,318.0 499.5,322.3 499.8,323.6 500.0,315.7 500.2,319.2 500.5,320.2 500.8,319.7 501.0,317.3 501.2,322.4 501.5,318.5 501.8,319.4 502.0,312.9 502.2,319.9 502.5,313.9 502.8,322.6 503.0,322.0 503.2,318.7 503.5,320.9 503.8,320.8 504.0,320.0 504.2,321.6 504.5,320.1 504.8,319.0 505.0,317.9 505.2,326.0 505.5,321.2 505.8,320.5 506.0,323.0 506.2,319.4 506.5,319.4 506.8,322.9 507.0,324.1 507.2,322.9 507.5,315.9 507.8,321.0 508.0,320.7 508.2,322.3 508.5,318.0 508.8,317.5 509.0,320.5 509.2,318.0 509.5,317.5 509.8,320.7 510.0,324.0 510.2,321.4 510.5,324.7 510.8,317.8 511.0,323.4 511.2,321.0 511.5,318.2 511.8,319.8 512.0,318.3 512.2,320.5 512.5,318.7 512.8,325.3 513.0,320.1 513.2,316.6 513.5,320.6 513.8,322.5 514.0,320.3 514.2,324.1 514.5,318.4 514.8,318.6 515.0,326.6 515.2,321.4 515.5,323.2 515.8,323.0 516.0,323.3 516.2,321.6 516.5,320.9 516.8,325.0 517.0,320.0 517.2,321.9 517.5,323.8 517.8,320.3 518.0,316.7 518.2,323.1 518.5,325.1 518.8,322.5 519.0,316.3 519.2,323.8 519.5,328.1 519.8,316.8 520.0,313.1 520.2,321.0 520.5,322.1 520.8,324.4 521.0,324.5 521.2,322.2 521.5,323.6 521.8,323.0 522.0,322.3 522.2,321.8 522.5,321.5 522.8,324.3 523.0,323.3 523.2,320.7 523.5,325.6 523.8,319.8 524.0,321.4 524.2,322.6 524.5,316.1 524.8,321.0 525.0,324.9 525.2,324.8 525.5,318.4 525.8,319.6 526.0,318.8 526.2,321.5 526.5,322.1 526.8,317.2 527.0,323.3 527.2,322.6 527.5,322.1 527.8,320.2 528.0,321.8 528.2,316.8 528.5,323.2 528.8,323.1 529.0,322.1 529.2,318.7 529.5,326.6 529.8,326.1 530.0,316.6 530.2,323.9 530.5,323.1 530.8,314.4 531.0,324.3 531.2,324.7 531.5,324.9 531.8,323.2 532.0,320.6 532.2,321.1 532.5,324.3 532.8,326.5 533.0,321.2 533.2,321.9 533.5,325.0 533.8,316.0 534.0,324.2 534.2,322.1 534.5,315.9 534.8,325.3 535.0,320.0 535.2,325.4 535.5,327.3 535.8,319.0 536.0,319.2 536.2,323.0 536.5,317.5 536.8,325.3 537.0,323.6 537.2,326.2 537.5,317.3 537.8,323.7 538.0,324.6 538.2,317.4 538.5,326.0 538.8,318.8 539.0,323.8 539.2,319.0 539.5,325.7 539.8,328.6 540.0,323.5 540.2,323.4 540.5,327.4 540.8,321.9 541.0,323.5 541.2,326.0 541.5,324.8 541.8,328.4 542.0,327.3 542.2,329.6 542.5,323.5 542.8,327.1 543.0,321.0 543.2,326.5 543.5,329.2 543.8,331.1 544.0,319.8 544.2,323.2 544.5,326.0 544.8,321.0 545.0,325.6 545.2,325.6 545.5,322.3 545.8,322.2 546.0,321.0 546.2,324.9 546.5,328.0 546.8,324.9 547.0,332.8 547.2,319.3 547.5,322.2 547.8,326.2 548.0,320.4 548.2,325.2 548.5,326.7 548.8,324.7 549.0,323.4 549.2,327.1 549.5,325.5 549.8,326.5 550.0,325.9 550.2,322.1 550.5,320.7 550.8,323.0 551.0,324.8 551.2,323.6 551.5,327.3 551.8,325.1 552.0,327.4 552.2,324.7 552.5,322.0 552.8,327.0 553.0,325.9 553.2,321.7 553.5,323.0 553.8,333.2 554.0,313.6 554.2,328.0 554.5,324.6 554.8,324.2 555.0,323.4 555.2,322.8 555.5,331.9 555.8,323.0 556.0,323.4 556.2,327.0 556.5,325.6 556.8,323.9 557.0,323.5 557.2,320.2 557.5,327.9 557.8,321.1 558.0,316.7 558.2,327.8 558.5,326.9 558.8,325.6 559.0,322.8 559.2,328.3 559.5,321.0 559.8,317.5 560.0,325.0 560.2,327.1 560.5,326.5 560.8,331.1 561.0,327.2 561.2,323.8 561.5,323.9 561.8,327.4 562.0,324.4 562.2,324.1 562.5,318.9 562.8,323.6 563.0,320.4 563.2,325.3 563.5,325.0 563.8,326.9 564.0,330.3 564.2,324.0 564.5,329.2 564.8,321.0 565.0,325.1 565.2,327.7 565.5,330.9 565.8,321.1 566.0,323.8 566.2,325.1 566.5,324.4 566.8,321.6 567.0,319.5 567.2,320.8 567.5,324.4 567.8,320.4 568.0,330.4 568.2,328.7 568.5,318.6 568.8,323.2 569.0,329.0 569.2,329.4 569.5,328.3 569.8,320.2 570.0,323.6 570.2,328.9 570.5,325.1 570.8,323.3 571.0,326.4 571.2,328.0 571.5,325.3 571.8,325.6 572.0,328.3 572.2,323.0 572.5,321.9 572.8,327.3 573.0,321.0 573.2,326.4 573.5,322.5 573.8,327.6 574.0,321.1 574.2,328.5 574.5,325.8 574.8,323.9 575.0,322.1 575.2,324.4 575.5,321.9 575.8,321.1 576.0,328.3 576.2,326.8 576.5,328.9 576.8,320.6 577.0,318.7 577.2,319.8 577.5,327.0 577.8,327.5 578.0,319.0 578.2,328.2 578.5,323.5 578.8,321.1 579.0,324.7 579.2,326.8 579.5,324.3 579.8,324.4 580.0,322.3 580.2,320.4 580.5,323.7 580.8,319.8 581.0,326.9 581.2,322.2 581.5,329.2 581.8,319.9 582.0,329.5 582.2,322.1 582.5,322.1 582.8,325.9 583.0,327.9 583.2,324.8 583.5,323.8 583.8,331.4 584.0,326.6 584.2,321.1 584.5,324.1 584.8,330.4 585.0,326.0"/>
<polyline stroke="#000000" points="42.0,304.6 42.2,276.3 42.5,294.6 42.8,288.7 43.0,289.6 43.2,291.3 43.5,280.4 43.8,291.6 44.0,288.0 44.2,313.9 44.5,295.1 44.8,291.7 45.0,292.4 45.2,290.2 45.5,288.1 45.8,292.3 46.0,297.9 46.2,293.7 46.5,301.2 46.8,294.3 47.0,295.9 47.2,305.4 47.5,299.4 47.8,293.2 48.0,295.4 48.2,300.0 48.5,308.7 48.8,295.4 49.0,295.7 49.2,303.5 49.5,292.2 49.8,296.0 50.0,303.3 50.2,301.6 50.5,298.8 50.8,302.5 51.0,281.4 51.2,304.9 51.5,293.1 51.8,288.9 52.0,300.9 52.2,303.6 52.5,296.8 52.8,293.1 53.0,300.0 53.2,299.6 53.5,308.6 53.8,304.8 54.0,301.6 54.2,307.3 54.5,299.5 54.8,295.3 55.0,304.6 55.2,304.8 55.5,300.1 55.8,296.8 56.0,303.1 56.2,286.8 56.5,306.2 56.8,305.2 57.0,292.5 57.2,302.9 57.5,296.9 57.8,307.4 58.0,290.7 58.2,297.6 58.5,307.5 58.8,310.4 59.0,290.6 59.2,300.7 59.5,305.8 59.8,300.3 60.0,313.7 60.2,297.1 60.5,306.5 60.8,298.2 61.0,313.0 61.2,304.5 61.5,302.5 61.8,294.6 62.0,315.0 62.2,309.5 62.5,309.6 62.8,312.0 63.0,307.3 63.2,301.5 63.5,300.6 63.8,300.6 64.0,313.6 64.2,296.7 64.5,301.9 64.8,303.6 65.0,306.8 65.2,308.9 65.5,298.0 65.8,295.1 66.0,305.4 66.2,312.6 66.5,309.8 66.8,306.5 67.0,303.3 67.2,306.8 67.5,303.5 67.8,309.7 68.0,300.1 68.2,305.5 68.5,303.9 68.8,307.7 69.0,305.7 69.2,319.4 69.5,313.1 69.8,313.0 70.0,291.9 70.2,301.9 70.5,300.2 70.8,306.9 71.0,290.2 71.2,310.6 71.5,309.9 71.8,295.9 72.0,297.7 72.2,298.8 72.5,303.8 72.8,307.3 73.0,315.7 73.2,302.6 73.5,308.5 73.8,305.1 74.0,314.9 74.2,309.2 74.5,313.3 74.8,299.3 75.0,304.9 75.2,301.7 75.5,315.8 75.8,311.4 76.0,306.2 76.2,305.9 76.5,311.9 76.8,305.4 77.0,304.6 77.2,313.4 77.5,325.5 77.8,310.1 78.0,308.7 78.2,305.6 78.5,305.2 78.8,316.7 79.0,319.1 79.2,314.8 79.5,317.2 79.8,316.3 80.0,316.8 80.2,307.4 80.5,313.9 80.8,317.4 81.0,312.5 81.2,314.5 81.5,312.7 81.8,315.8 82.0,322.9 82.2,315.7 82.5,317.4 82.8,323.2 83.0,322.4 83.2,328.7 83.5,306.9 83.8,324.1 84.0,316.5 84.2,320.3 84.5,324.5 84.8,326.0 85.0,325.9 85.2,320.9 85.5,329.5 85.8,318.7 86.0,319.6 86.2,325.2 86.5,317.5 86.8,333.3 87.0,326.8 87.2,333.6 87.5,321.0 87.8,319.1 88.0,322.4 88.2,325.8 88.5,318.3 88.8,324.0 89.0,321.9 89.2,331.4 89.5,318.4 89.8,328.4 90.0,318.8 90.2,317.1 90.5,318.7 90.8,316.1 91.0,323.9 91.2,329.1 91.5,324.3 91.8,327.1 92.0,333.0 92.2,325.4 92.5,325.1 92.8,322.5 93.0,315.0 93.2,328.7 93.5,314.5 93.8,328.4 94.0,324.7 94.2,331.4 94.5,324.7 94.8,320.5 95.0,327.4 95.2,322.3 95.5,324.6 95.8,326.0 96.0,325.1 96.2,325.0 96.5,321.4 96.8,325.2 97.0,314.3 97.2,325.7 97.5,319.9 97.8,333.2 98.0,334.2 98.2,316.0 98.5,328.0 98.8,326.6 99.0,321.5 99.2,330.6 99.5,325.1 99.8,317.8 100.0,326.4 100.2,327.2 100.5,328.8 100.8,321.3 101.0,331.9 101.2,332.6 101.5,322.1 101.8,325.0 102.0,328.3 102.2,325.7 102.5,338.8 102.8,330.3 103.0,323.5 103.2,324.8 103.5,329.1 103.8,342.4 104.0,328.5 104.2,330.4 104.5,332.6 104.8,329.6 105.0,342.7 105.2,327.0 105.5,334.2 105.8,331.0 106.0,333.7 106.2,323.6 106.5,340.3 106.8,329.7 107.0,330.7 107.2,325.3 107.5,326.5 107.8,333.8 108.0,336.3 108.2,335.0 108.5,337.7 108.8,335.0 109.0,331.2 109.2,335.8 109.5,334.5 109.8,330.7 110.0,335.4 110.2,338.5 110.5,332.8 110.8,329.5 111.0,335.6 111.2,342.3 111.5,330.6 111.8,331.3 112.0,331.1 112.2,338.8 112.5,321.8 112.8,334.2 113.0,338.9 113.2,327.8 113.5,340.7 113.8,335.5 114.0,329.5 114.2,333.8 114.5,324.3 114.8,329.8 115.0,343.1 115.2,328.2 115.5,343.4 115.8,332.9 116.0,339.0 116.2,333.8 116.5,321.3 116.8,330.7 117.0,335.1 117.2,327.8 117.5,326.9 117.8,336.5 118.0,331.0 118.2,325.4 118.5,331.1 118.8,339.8 119.0,332.6 119.2,340.6 119.5,344.0 119.8,335.9 120.0,329.7 120.2,328.9 120.5,336.1 120.8,341.3 121.0,338.1 121.2,339.8 121.5,334.6 121.8,338.8 122.0,334.8 122.2,335.7 122.5,330.6 122.8,329.3 123.0,335.4 123.2,332.2 123.5,333.2 123.8,342.3 124.0,338.2 124.2,354.8 124.5,344.2 124.8,335.8 125.0,343.7 125.2,341.6 125.5,336.1 125.8,345.9 126.0,335.9 126.2,323.7 126.5,344.7 126.8,337.2 127.0,348.8 127.2,337.3 127.5,334.6 127.8,349.5 128.0,335.5 128.2,342.5 128.5,349.4 128.8,342.3 129.0,341.4 129.2,342.5 129.5,346.6 129.8,337.9 130.0,345.7 130.2,345.7 130.5,355.2 130.8,341.0 131.0,338.1 131.2,347.1 131.5,341.1 131.8,344.9 132.0,344.2 132.2,349.9 132.5,340.3 132.8,343.5 133.0,330.4 133.2,339.5 133.5,352.6 133.8,340.8 134.0,340.9 134.2,338.3 134.5,348.0 134.8,345.9 135.0,338.8 135.2,348.8 135.5,346.7 135.8,349.5 136.0,342.2 136.2,354.9 136.5,348.0 136.8,345.3 137.0,343.3 137.2,344.8 137.5,350.8 137.8,344.9 138.0,352.1 138.2,349.6 138.5,353.7 138.8,350.9 139.0,346.4 139.2,336.7 139.5,348.4 139.8,351.1 140.0,347.9 140.2,350.0 140.5,344.6 140.8,345.2 141.0,342.3 141.2,354.4 141.5,348.2 141.8,344.8 142.0,340.5 142.2,346.7 142.5,355.1 142.8,350.1 143.0,343.9 143.2,355.2 143.5,355.3 143.8,353.0 144.0,352.0 144.2,354.0 144.5,350.9 144.8,352.1 145.0,344.1 145.2,356.0 145.5,349.4 145.8,358.8 146.0,337.7 146.2,352.0 146.5,353.5 146.8,346.7 147.0,350.8 147.2,352.4 147.5,351.6 147.8,345.8 148.0,347.9 148.2,354.0 148.5,355.3 148.8,349.3 149.0,349.2 149.2,349.8 149.5,354.2 149.8,343.4 150.0,342.1 150.2,349.5 150.5,343.2 150.8,345.9 151.0,349.4 151.2,351.4 151.5,343.5 151.8,353.1 152.0,339.9 152.2,351.8 152.5,340.9 152.8,342.5 153.0,352.3 153.2,346.9 153.5,344.9 153.8,346.7 154.0,351.4 154.2,348.7 154.5,348.8 154.8,354.3 155.0,345.3 155.2,346.6 155.5,346.3 155.8,354.9 156.0,354.0 156.2,355.4 156.5,348.7 156.8,348.1 157.0,353.2 157.2,346.9 157.5,353.0 157.8,352.5 158.0,345.3 158.2,348.4 158.5,348.2 158.8,357.5 159.0,361.8 159.2,348.2 159.5,348.8 159.8,337.2 160.0,349.7 160.2,348.6 160.5,343.2 160.8,352.5 161.0,340.7 161.2,347.5 161.5,349.2 161.8,342.2 162.0,352.7 162.2,353.7 162.5,341.5 162.8,341.3 163.0,351.3 163.2,348.1 163.5,342.2 163.8,346.7 164.0,347.6 164.2,347.4 164.5,352.2 164.8,349.9 165.0,356.8 165.2,354.8 165.5,351.2 165.8,353.1 166.0,354.1 166.2,350.9 166.5,341.1 166.8,351.2 167.0,347.1 167.2,354.4 167.5,346.6 167.8,348.5 168.0,347.2 168.2,353.5 168.5,345.8 168.8,343.3 169.0,345.8 169.2,341.8 169.5,344.4 169.8,343.3 170.0,344.3 170.2,352.1 170.5,340.4 170.8,342.2 171.0,340.7 171.2,344.6 171.5,335.2 171.8,337.2 172.0,340.0 172.2,342.5 172.5,339.2 172.8,336.5 173.0,334.3 173.2,340.6 173.5,344.7 173.8,338.8 174.0,337.7 174.2,338.5 174.5,331.3 174.8,333.9 175.0,333.6 175.2,335.9 175.5,333.8 175.8,327.6 176.0,338.4 176.2,340.6 176.5,330.7 176.8,333.3 177.0,332.2 177.2,334.1 177.5,322.7 177.8,337.0 178.0,326.4 178.2,334.2 178.5,327.9 178.8,325.1 179.0,325.6 179.2,329.9 179.5,320.9 179.8,322.5 180.0,321.2 180.2,314.6 180.5,328.2 180.8,323.9 181.0,320.2 181.2,324.9 181.5,313.9 181.8,317.1 182.0,324.6 182.2,320.1 182.5,303.9 182.8,297.6 183.0,307.3 183.2,316.2 183.5,307.9 183.8,308.0 184.0,310.8 184.2,302.8 184.5,306.9 184.8,308.7 185.0,306.2 185.2,304.9 185.5,299.3 185.8,303.7 186.0,298.4 186.2,305.6 186.5,310.7 186.8,294.4 187.0,286.8 187.2,294.1 187.5,297.0 187.8,299.3 188.0,298.6 188.2,289.1 188.5,288.2 188.8,296.9 189.0,285.0 189.2,294.2 189.5,287.2 189.8,290.9 190.0,289.6 190.2,288.9 190.5,288.1 190.8,278.6 191.0,283.4 191.2,281.0 191.5,281.2 191.8,284.4 192.0,276.2 192.2,273.0 192.5,271.7 192.8,272.6 193.0,276.5 193.2,267.9 193.5,276.2 193.8,271.0 194.0,267.5 194.2,261.2 194.5,267.9 194.8,269.1 195.0,256.4 195.2,269.9 195.5,271.4 195.8,264.3 196.0,264.2 196.2,272.8 196.5,266.2 196.8,255.0 197.0,258.5 197.2,257.1 197.5,256.4 197.8,244.8 198.0,259.6 198.2,252.2 198.5,255.7 198.8,253.8 199.0,258.6 199.2,252.6 199.5,250.0 199.8,256.8 200.0,261.5 200.2,253.2 200.5,262.4 200.8,257.5 201.0,254.4 201.2,265.6 201.5,254.8 201.8,265.0 202.0,258.5 202.2,264.2 202.5,256.8 202.8,259.7 203.0,270.0 203.2,266.5 203.5,266.8 203.8,265.4 204.0,270.8 204.2,262.8 204.5,265.3 204.8,271.1 205.0,268.9 205.2,270.7 205.5,274.8 205.8,275.6 206.0,276.4 206.2,286.5 206.5,284.5 206.8,286.6 207.0,281.7 207.2,280.4 207.5,277.0 207.8,283.2 208.0,275.9 208.2,283.9 208.5,291.1 208.8,295.9 209.0,293.6 209.2,285.9 209.5,292.9 209.8,287.7 210.0,295.8 210.2,292.2 210.5,297.4 210.8,305.9 211.0,299.0 211.2,306.1 211.5,296.8 211.8,295.1 212.0,303.4 212.2,305.9 212.5,296.0 212.8,299.6 213.0,293.3 213.2,299.6 213.5,305.3 213.8,301.5 214.0,300.0 214.2,296.9 214.5,305.7 214.8,308.4 215.0,308.2 215.2,307.5 215.5,301.3 215.8,315.9 216.0,308.5 216.2,308.9 216.5,313.7 216.8,301.4 217.0,311.8 217.2,312.3 217.5,315.4 217.8,320.7 218.0,317.5 218.2,308.0 218.5,315.5 218.8,318.8 219.0,319.3 219.2,313.7 219.5,312.7 219.8,323.4 220.0,323.2 220.2,322.2 220.5,315.3 220.8,331.6 221.0,311.3 221.2,323.2 221.5,334.8 221.8,325.3 222.0,327.6 222.2,321.9 222.5,333.7 222.8,322.5 223.0,329.9 223.2,329.9 223.5,325.2 223.8,334.4 224.0,324.7 224.2,328.6 224.5,332.1 224.8,331.0 225.0,335.6 225.2,338.3 225.5,333.6 225.8,333.2 226.0,334.0 226.2,335.4 226.5,341.3 226.8,337.5 227.0,340.9 227.2,339.5 227.5,336.8 227.8,345.0 228.0,337.3 228.2,342.6 228.5,349.7 228.8,339.0 229.0,344.1 229.2,337.9 229.5,343.1 229.8,339.3 230.0,344.7 230.2,344.3 230.5,347.5 230.8,354.1 231.0,348.7 231.2,350.6 231.5,347.7 231.8,347.1 232.0,344.7 232.2,340.7 232.5,349.0 232.8,355.9 233.0,351.1 233.2,346.9 233.5,356.5 233.8,347.7 234.0,347.1 234.2,344.7 234.5,345.9 234.8,349.1 235.0,358.9 235.2,349.6 235.5,346.2 235.8,348.1 236.0,349.9 236.2,343.6 236.5,351.6 236.8,354.1 237.0,352.6 237.2,353.8 237.5,345.8 237.8,344.2 238.0,356.9 238.2,356.1 238.5,344.9 238.8,352.4 239.0,351.6 239.2,353.8 239.5,352.4 239.8,349.4 240.0,352.3 240.2,352.1 240.5,351.2 240.8,343.6 241.0,338.8 241.2,348.1 241.5,344.5 241.8,352.4 242.0,354.3 242.2,352.4 242.5,349.7 242.8,351.5 243.0,356.1 243.2,348.1 243.5,355.0 243.8,354.1 244.0,352.2 244.2,357.1 244.5,348.0 244.8,354.9 245.0,347.1 245.2,347.7 245.5,346.4 245.8,352.7 246.0,346.9 246.2,350.9 246.5,346.0 246.8,355.0 247.0,358.2 247.2,351.5 247.5,357.3 247.8,352.8 248.0,359.4 248.2,350.8 248.5,343.9 248.8,356.4 249.0,349.7 249.2,345.9 249.5,347.4 249.8,343.3 250.0,349.2 250.2,345.4 250.5,355.8 250.8,352.4 251.0,342.8 251.2,343.3 251.5,347.1 251.8,341.5 252.0,348.8 252.2,348.9 252.5,345.9 252.8,346.7 253.0,350.9 253.2,354.5 253.5,354.7 253.8,348.7 254.0,351.9 254.2,345.4 254.5,350.0 254.8,344.4 255.0,351.1 255.2,343.1 255.5,344.1 255.8,347.9 256.0,350.1 256.2,342.0 256.5,345.6 256.8,348.2 257.0,348.6 257.2,344.3 257.5,348.0 257.8,346.5 258.0,353.1 258.2,349.7 258.5,342.2 258.8,338.7 259.0,347.9 259.2,352.2 259.5,348.2 259.8,351.1 260.0,345.7 260.2,342.3 260.5,350.7 260.8,348.2 261.0,350.6 261.2,342.6 261.5,348.8 261.8,345.8 262.0,351.5 262.2,346.2 262.5,346.2 262.8,346.4 263.0,353.8 263.2,349.1 263.5,346.2 263.8,345.3 264.0,345.4 264.2,355.3 264.5,342.7 264.8,346.6 265.0,352.6 265.2,354.9 265.5,349.9 265.8,353.7 266.0,353.8 266.2,354.8 266.5,351.3 266.8,357.7 267.0,352.3 267.2,357.7 267.5,347.7 267.8,355.8 268.0,347.5 268.2,346.9 268.5,354.8 268.8,350.0 269.0,355.2 269.2,349.6 269.5,360.2 269.8,354.4 270.0,350.3 270.2,355.6 270.5,358.7 270.8,352.7 271.0,357.9 271.2,364.1 271.5,359.9 271.8,356.9 272.0,355.2 272.2,359.9 272.5,352.3 272.8,346.8 273.0,356.2 273.2,355.0 273.5,366.0 273.8,360.3 274.0,356.4 274.2,356.0 274.5,362.6 274.8,357.9 275.0,359.2 275.2,361.3 275.5,362.3 275.8,362.6 276.0,363.0 276.2,367.8 276.5,369.6 276.8,357.3 277.0,373.5 277.2,364.6 277.5,369.1 277.8,362.0 278.0,366.3 278.2,366.2 278.5,366.1 278.8,369.1 279.0,368.6 279.2,362.8 279.5,366.4 279.8,369.9 280.0,370.0 280.2,366.5 280.5,367.0 280.8,367.8 281.0,364.6 281.2,364.2 281.5,375.0 281.8,368.0 282.0,370.1 282.2,367.3 282.5,375.0 282.8,377.0 283.0,370.0 283.2,372.9 283.5,368.5 283.8,378.0 284.0,375.1 284.2,369.0 284.5,376.8 284.8,373.8 285.0,374.3 285.2,374.3 285.5,370.8 285.8,371.5 286.0,376.0 286.2,373.8 286.5,370.8 286.8,381.8 287.0,373.9 287.2,372.9 287.5,372.6 287.8,377.9 288.0,379.1 288.2,376.7 288.5,379.2 288.8,370.9 289.0,375.2 289.2,375.1 289.5,377.0 289.8,379.0 290.0,370.1 290.2,388.8 290.5,374.8 290.8,379.3 291.0,381.2 291.2,381.5 291.5,379.5 291.8,368.5 292.0,375.2 292.2,382.0 292.5,376.2 292.8,375.9 293.0,371.5 293.2,384.3 293.5,382.0 293.8,377.2 294.0,380.0 294.2,380.3 294.5,376.9 294.8,380.0 295.0,382.0 295.2,383.2 295.5,385.9 295.8,381.7 296.0,380.1 296.2,383.3 296.5,379.8 296.8,377.7 297.0,386.2 297.2,381.0 297.5,382.9 297.8,384.9 298.0,378.9 298.2,385.1 298.5,384.5 298.8,382.7 299.0,384.6 299.2,380.7 299.5,375.8 299.8,382.6 300.0,380.5 300.2,386.7 300.5,384.8 300.8,382.1 301.0,384.2 301.2,388.8 301.5,388.2 301.8,385.6 302.0,386.0 302.2,383.6 302.5,384.2 302.8,386.8 303.0,384.5 303.2,386.0 303.5,381.3 303.8,379.5 304.0,379.5 304.2,383.8 304.5,389.9 304.8,389.5 305.0,382.2 305.2,380.4 305.5,388.4 305.8,387.4 306.0,381.3 306.2,389.5 306.5,386.7 306.8,390.6 307.0,387.4 307.2,389.3 307.5,387.4 307.8,383.2 308.0,385.7 308.2,384.3 308.5,389.4 308.8,383.4 309.0,381.7 309.2,389.1 309.5,390.7 309.8,391.8 310.0,390.7 310.2,382.1 310.5,384.9 310.8,385.4 311.0,387.2 311.2,380.2 311.5,387.4 311.8,388.4 312.0,384.4 312.2,388.0 312.5,391.6 312.8,387.9 313.0,391.2 313.2,391.2 313.5,389.2 313.8,389.2 314.0,386.8 314.2,392.1 314.5,386.6 314.8,385.9 315.0,390.5 315.2,385.9 315.5,389.7 315.8,391.8 316.0,388.7 316.2,388.8 316.5,391.5 316.8,391.0 317.0,383.7 317.2,384.5 317.5,393.0 317.8,390.1 318.0,382.2 318.2,384.6 318.5,389.0 318.8,385.8 319.0,390.5 319.2,389.3 319.5,390.7 319.8,385.4 320.0,391.2 320.2,395.5 320.5,386.7 320.8,393.5 321.0,392.5 321.2,391.4 321.5,389.2 321.8,385.7 322.0,386.7 322.2,391.9 322.5,392.6 322.8,393.4 323.0,392.6 323.2,392.5 323.5,388.2 323.8,385.8 324.0,390.3 324.2,391.3 324.5,390.0 324.8,384.9 325.0,388.1 325.2,385.1 325.5,390.3 325.8,386.5 326.0,389.3 326.2,390.9 326.5,390.3 326.8,394.2 327.0,386.4 327.2,383.0 327.5,392.9 327.8,394.4 328.0,394.5 328.2,390.9 328.5,391.7 328.8,390.5 329.0,386.0 329.2,388.3 329.5,391.7 329.8,388.3 330.0,396.2 330.2,385.3 330.5,388.8 330.8,393.7 331.0,388.3 331.2,386.7 331.5,386.0 331.8,388.0 332.0,395.0 332.2,391.6 332.5,392.0 332.8,388.7 333.0,393.0 333.2,390.7 333.5,387.5 333.8,389.0 334.0,391.1 334.2,394.1 334.5,390.3 334.8,392.0 335.0,396.8 335.2,388.0 335.5,386.6 335.8,393.6 336.0,391.9 336.2,390.3 336.5,391.4 336.8,389.6 337.0,392.2 337.2,389.6 337.5,393.1 337.8,387.0 338.0,388.1 338.2,391.0 338.5,389.2 338.8,392.9 339.0,390.6 339.2,389.0 339.5,391.4 339.8,389.1 340.0,385.9 340.2,387.2 340.5,388.3 340.8,389.3 341.0,391.1 341.2,393.6 341.5,392.5 341.8,396.4 342.0,394.8 342.2,390.3 342.5,396.0 342.8,394.5 343.0,389.5 343.2,391.9 343.5,394.3 343.8,391.7 344.0,394.1 344.2,392.2 344.5,393.1 344.8,390.0 345.0,392.2 345.2,389.9 345.5,393.1 345.8,385.8 346.0,392.1 346.2,394.9 346.5,392.8 346.8,391.0 347.0,392.7 347.2,388.5 347.5,388.5 347.8,390.0 348.0,390.6 348.2,394.1 348.5,388.4 348.8,394.2 349.0,386.3 349.2,388.7 349.5,391.0 349.8,394.7 350.0,389.3 350.2,384.6 350.5,392.4 350.8,391.1 351.0,387.9 351.2,388.0 351.5,389.1 351.8,391.5 352.0,393.2 352.2,386.7 352.5,398.2 352.8,391.1 353.0,390.1 353.2,393.3 353.5,391.6 353.8,398.4 354.0,394.6 354.2,390.1 354.5,390.1 354.8,389.7 355.0,390.2 355.2,393.3 355.5,389.3 355.8,396.2 356.0,391.0 356.2,390.8 356.5,394.2 356.8,385.3 357.0,388.4 357.2,393.1 357.5,391.3 357.8,391.3 358.0,392.5 358.2,389.5 358.5,390.8 358.8,387.2 359.0,385.6 359.2,395.2 359.5,388.5 359.8,389.2 360.0,395.6 360.2,394.5 360.5,389.7 360.8,389.7 361.0,391.1 361.2,388.5 361.5,393.0 361.8,391.8 362.0,391.7 362.2,393.6 362.5,393.5 362.8,396.9 363.0,395.9 363.2,386.2 363.5,394.1 363.8,388.0 364.0,387.1 364.2,393.5 364.5,389.3 364.8,390.4 365.0,394.6 365.2,389.4 365.5,388.7 365.8,392.4 366.0,395.1 366.2,393.0 366.5,386.8 366.8,389.5 367.0,391.0 367.2,397.2 367.5,394.1 367.8,394.0 368.0,395.0 368.2,390.5 368.5,392.9 368.8,392.9 369.0,388.5 369.2,391.4 369.5,393.2 369.8,388.3 370.0,393.9 370.2,393.7 370.5,394.6 370.8,389.2 371.0,391.8 371.2,395.8 371.5,393.9 371.8,389.2 372.0,392.2 372.2,395.7 372.5,391.3 372.8,392.7 373.0,399.2 373.2,391.4 373.5,391.2 373.8,388.6 374.0,389.6 374.2,396.0 374.5,391.1 374.8,388.0 375.0,388.8 375.2,391.6 375.5,393.8 375.8,389.4 376.0,393.7 376.2,390.1 376.5,392.6 376.8,393.1 377.0,393.4 377.2,390.3 377.5,391.1 377.8,393.1 378.0,387.8 378.2,392.1 378.5,393.1 378.8,394.7 379.0,391.5 379.2,391.1 379.5,392.0 379.8,389.5 380.0,391.0 380.2,392.8 380.5,392.5 380.8,388.6 381.0,390.7 381.2,385.5 381.5,394.0 381.8,390.1 382.0,392.4 382.2,388.5 382.5,391.5 382.8,393.0 383.0,394.6 383.2,387.7 383.5,394.2 383.8,391.3 384.0,389.5 384.2,393.2 384.5,390.9 384.8,390.9 385.0,389.7 385.2,392.5 385.5,391.9 385.8,391.3 386.0,389.0 386.2,390.4 386.5,393.0 386.8,395.6 387.0,391.8 387.2,396.0 387.5,391.9 387.8,388.7 388.0,393.8 388.2,389.1 388.5,393.1 388.8,395.1 389.0,391.1 389.2,391.7 389.5,399.2 389.8,392.7 390.0,392.8 390.2,394.3 390.5,391.8 390.8,391.8 391.0,393.2 391.2,385.2 391.5,396.2 391.8,389.0 392.0,389.0 392.2,393.7 392.5,392.2 392.8,388.6 393.0,392.8 393.2,388.9 393.5,390.2 393.8,387.9 394.0,389.8 394.2,393.4 394.5,392.6 394.8,393.1 395.0,394.9 395.2,392.2 395.5,390.4 395.8,391.5 396.0,397.0 396.2,392.4 396.5,393.2 396.8,392.1 397.0,393.0 397.2,393.6 397.5,392.3 397.8,391.9 398.0,390.1 398.2,390.0 398.5,393.6 398.8,394.5 399.0,395.0 399.2,392.6 399.5,390.1 399.8,394.2 400.0,394.2 400.2,388.1 400.5,394.7 400.8,394.1 401.0,397.2 401.2,389.2 401.5,388.8 401.8,394.7 402.0,387.3 402.2,390.4 402.5,389.3 402.8,389.6 403.0,387.0 403.2,391.8 403.5,395.2 403.8,393.7 404.0,393.7 404.2,391.4 404.5,396.6 404.8,394.0 405.0,395.5 405.2,388.0 405.5,393.5 405.8,389.2 406.0,393.5 406.2,393.0 406.5,389.3 406.8,393.0 407.0,395.8 407.2,393.9 407.5,394.2 407.8,390.0 408.0,390.6 408.2,389.3 408.5,392.9 408.8,395.9 409.0,393.7 409.2,392.5 409.5,389.3 409.8,393.8 410.0,391.8 410.2,387.1 410.5,387.6 410.8,391.5 411.0,390.0 411.2,397.2 411.5,392.6 411.8,389.5 412.0,391.1 412.2,397.0 412.5,389.8 412.8,394.7 413.0,393.8 413.2,396.7 413.5,394.0 413.8,391.4 414.0,394.0 414.2,392.7 414.5,395.3 414.8,392.3 415.0,398.1 415.2,392.2 415.5,393.8 415.8,390.7 416.0,392.9 416.2,392.6 416.5,393.0 416.8,395.1 417.0,391.0 417.2,390.1 417.5,395.7 417.8,391.7 418.0,390.6 418.2,395.8 418.5,394.8 418.8,385.0 419.0,391.5 419.2,394.8 419.5,394.9 419.8,391.1 420.0,397.0 420.2,390.3 420.5,391.9 420.8,392.9 421.0,392.5 421.2,394.9 421.5,395.5 421.8,392.4 422.0,396.5 422.2,390.6 422.5,392.0 422.8,397.5 423.0,392.8 423.2,395.6 423.5,391.3 423.8,391.8 424.0,392.3 424.2,393.1 424.5,391.6 424.8,392.6 425.0,394.5 425.2,396.0 425.5,392.9 425.8,394.4 426.0,395.2 426.2,389.5 426.5,388.1 426.8,397.2 427.0,396.3 427.2,392.8 427.5,393.6 427.8,389.9 428.0,388.7 428.2,393.5 428.5,388.4 428.8,395.2 429.0,390.6 429.2,393.4 429.5,398.1 429.8,397.9 430.0,391.8 430.2,395.6 430.5,389.6 430.8,390.9 431.0,393.6 431.2,396.5 431.5,390.9 431.8,394.1 432.0,392.8 432.2,388.9 432.5,392.1 432.8,396.8 433.0,392.2 433.2,393.9 433.5,394.8 433.8,390.4 434.0,396.0 434.2,396.7 434.5,397.0 434.8,396.2 435.0,391.1 435.2,390.7 435.5,390.2 435.8,389.8 436.0,390.1 436.2,395.2 436.5,396.5 436.8,390.5 437.0,394.6 437.2,388.7 437.5,391.4 437.8,389.4 438.0,387.6 438.2,392.4 438.5,392.5 438.8,391.1 439.0,390.7 439.2,389.4 439.5,391.8 439.8,390.5 440.0,392.8 440.2,388.7 440.5,392.8 440.8,393.6 441.0,395.6 441.2,395.1 441.5,392.6 441.8,390.1 442.0,386.8 442.2,392.0 442.5,396.0 442.8,396.7 443.0,384.7 443.2,389.8 443.5,390.9 443.8,388.9 444.0,392.4 444.2,392.0 444.5,390.4 444.8,391.7 445.0,387.3 445.2,389.0 445.5,389.2 445.8,394.3 446.0,387.1 446.2,391.1 446.5,393.9 446.8,391.5 447.0,394.0 447.2,389.8 447.5,392.9 447.8,394.2 448.0,398.0 448.2,393.7 448.5,395.6 448.8,391.6 449.0,391.8 449.2,396.0 449.5,393.2 449.8,395.5 450.0,393.5 450.2,397.5 450.5,398.2 450.8,389.0 451.0,396.7 451.2,392.5 451.5,392.6 451.8,390.9 452.0,393.3 452.2,388.0 452.5,389.1 452.8,388.9 453.0,391.9 453.2,393.7 453.5,393.1 453.8,392.0 454.0,389.2 454.2,385.8 454.5,392.0 454.8,391.2 455.0,391.7 455.2,394.7 455.5,390.1 455.8,390.0 456.0,383.9 456.2,392.0 456.5,390.2 456.8,388.2 457.0,391.4 457.2,387.2 457.5,388.6 457.8,395.7 458.0,392.2 458.2,392.6 458.5,392.1 458.8,391.7 459.0,390.3 459.2,396.3 459.5,389.4 459.8,391.7 460.0,388.9 460.2,388.5 460.5,382.4 460.8,383.8 461.0,393.7 461.2,393.5 461.5,387.9 461.8,389.0 462.0,390.8 462.2,386.1 462.5,393.9 462.8,385.8 463.0,386.7 463.2,380.8 463.5,392.9 463.8,388.7 464.0,393.1 464.2,385.5 464.5,389.3 464.8,388.5 465.0,388.7 465.2,394.0 465.5,394.5 465.8,391.9 466.0,386.7 466.2,390.3 466.5,391.5 466.8,389.2 467.0,389.1 467.2,388.8 467.5,384.7 467.8,387.9 468.0,391.7 468.2,384.2 468.5,387.1 468.8,389.2 469.0,382.8 469.2,386.2 469.5,381.7 469.8,384.7 470.0,382.3 470.2,383.6 470.5,384.7 470.8,385.2 471.0,385.3 471.2,378.9 471.5,390.2 471.8,384.8 472.0,382.3 472.2,383.6 472.5,386.2 472.8,382.3 473.0,383.9 473.2,383.6 473.5,386.4 473.8,382.7 474.0,386.0 474.2,385.6 474.5,384.1 474.8,388.0 475.0,384.4 475.2,380.9 475.5,385.0 475.8,384.5 476.0,383.9 476.2,384.6 476.5,390.6 476.8,384.5 477.0,385.1 477.2,383.0 477.5,387.4 477.8,383.4 478.0,381.2 478.2,379.9 478.5,384.9 478.8,385.5 479.0,378.7 479.2,381.1 479.5,385.0 479.8,386.0 480.0,379.3 480.2,381.8 480.5,385.3 480.8,381.3 481.0,381.5 481.2,381.2 481.5,379.0 481.8,382.8 482.0,383.5 482.2,378.5 482.5,382.8 482.8,385.6 483.0,383.0 483.2,385.1 483.5,380.7 483.8,386.2 484.0,380.0 484.2,387.6 484.5,380.9 484.8,380.1 485.0,379.6 485.2,380.9 485.5,380.6 485.8,380.1 486.0,381.1 486.2,383.9 486.5,384.5 486.8,381.0 487.0,385.5 487.2,379.1 487.5,379.1 487.8,378.8 488.0,383.8 488.2,377.7 488.5,378.2 488.8,385.9 489.0,387.2 489.2,386.3 489.5,378.3 489.8,382.7 490.0,385.1 490.2,383.1 490.5,378.4 490.8,382.1 491.0,378.4 491.2,379.9 491.5,389.7 491.8,385.6 492.0,379.7 492.2,379.7 492.5,385.5 492.8,382.6 493.0,386.2 493.2,382.9 493.5,384.3 493.8,385.8 494.0,382.3 494.2,380.0 494.5,382.2 494.8,383.8 495.0,385.4 495.2,386.0 495.5,386.2 495.8,388.0 496.0,384.2 496.2,390.9 496.5,392.8 496.8,388.3 497.0,388.0 497.2,391.2 497.5,389.6 497.8,388.4 498.0,387.6 498.2,386.1 498.5,385.0 498.8,390.4 499.0,392.0 499.2,385.7 499.5,388.7 499.8,389.7 500.0,388.0 500.2,387.1 500.5,388.3 500.8,384.0 501.0,389.6 501.2,389.1 501.5,396.1 501.8,392.9 502.0,389.3 502.2,390.5 502.5,395.5 502.8,395.4 503.0,391.5 503.2,390.7 503.5,387.1 503.8,390.4 504.0,391.0 504.2,389.6 504.5,396.8 504.8,386.6 505.0,391.7 505.2,393.4 505.5,393.7 505.8,397.4 506.0,388.7 506.2,390.7 506.5,393.3 506.8,393.5 507.0,392.2 507.2,391.2 507.5,396.6 507.8,390.7 508.0,392.1 508.2,398.0 508.5,399.0 508.8,396.7 509.0,391.8 509.2,392.0 509.5,392.0 509.8,391.4 510.0,393.6 510.2,398.5 510.5,395.6 510.8,392.9 511.0,393.0 511.2,392.0 511.5,398.9 511.8,389.7 512.0,396.4 512.2,391.6 512.5,392.7 512.8,391.6 513.0,398.7 513.2,395.8 513.5,403.9 513.8,393.2 514.0,393.1 514.2,398.0 514.5,398.0 514.8,395.6 515.0,390.7 515.2,400.7 515.5,398.3 515.8,397.9 516.0,395.1 516.2,398.7 516.5,395.3 516.8,397.1 517.0,396.5 517.2,400.7 517.5,395.9 517.8,396.3 518.0,400.5 518.2,398.1 518.5,397.4 518.8,396.9 519.0,400.3 519.2,395.8 519.5,399.1 519.8,403.6 520.0,399.0 520.2,395.7 520.5,394.6 520.8,398.5 521.0,394.6 521.2,393.6 521.5,396.1 521.8,395.2 522.0,400.9 522.2,394.3 522.5,403.0 522.8,396.4 523.0,398.9 523.2,400.6 523.5,399.3 523.8,400.8 524.0,396.0 524.2,392.4 524.5,398.3 524.8,394.1 525.0,397.4 525.2,401.8 525.5,398.5 525.8,397.5 526.0,396.0 526.2,398.4 526.5,398.8 526.8,394.8 527.0,400.2 527.2,396.4 527.5,400.1 527.8,398.3 528.0,402.4 528.2,402.1 528.5,399.7 528.8,399.4 529.0,401.0 529.2,403.8 529.5,402.9 529.8,400.4 530.0,400.9 530.2,404.5 530.5,395.4 530.8,401.7 531.0,397.6 531.2,404.1 531.5,398.9 531.8,400.0 532.0,397.2 532.2,400.4 532.5,402.7 532.8,405.3 533.0,396.9 533.2,399.3 533.5,411.8 533.8,403.3 534.0,400.7 534.2,402.2 534.5,393.1 534.8,405.4 535.0,401.3 535.2,396.7 535.5,404.2 535.8,399.1 536.0,398.0 536.2,402.5 536.5,402.1 536.8,399.7 537.0,400.8 537.2,397.2 537.5,396.9 537.8,403.7 538.0,404.9 538.2,402.4 538.5,402.2 538.8,400.0 539.0,400.8 539.2,398.5 539.5,406.3 539.8,399.6 540.0,402.5 540.2,401.3 540.5,397.3 540.8,406.9 541.0,400.3 541.2,399.2 541.5,401.7 541.8,398.8 542.0,401.5 542.2,398.7 542.5,403.1 542.8,401.7 543.0,397.6 543.2,404.5 543.5,402.1 543.8,398.4 544.0,402.6 544.2,402.8 544.5,407.0 544.8,399.2 545.0,404.1 545.2,401.4 545.5,403.5 545.8,401.0 546.0,401.6 546.2,403.2 546.5,398.4 546.8,395.8 547.0,401.8 547.2,400.6 547.5,402.1 547.8,403.7 548.0,401.3 548.2,405.3 548.5,401.8 548.8,402.3 549.0,404.4 549.2,403.7 549.5,401.8 549.8,402.4 550.0,399.9 550.2,400.3 550.5,402.4 550.8,404.5 551.0,400.9 551.2,404.6 551.5,407.7 551.8,408.3 552.0,402.3 552.2,405.2 552.5,404.0 552.8,404.5 553.0,404.7 553.2,403.8 553.5,404.7 553.8,402.9 554.0,401.6 554.2,403.1 554.5,403.8 554.8,405.9 555.0,403.5 555.2,404.5 555.5,406.5 555.8,399.8 556.0,401.7 556.2,404.0 556.5,402.5 556.8,399.6 557.0,405.3 557.2,402.3 557.5,399.6 557.8,407.9 558.0,398.8 558.2,402.5 558.5,400.6 558.8,402.8 559.0,404.2 559.2,400.2 559.5,402.3 559.8,402.2 560.0,399.7 560.2,405.9 560.5,403.1 560.8,401.7 561.0,400.7 561.2,401.6 561.5,403.0 561.8,401.3 562.0,406.2 562.2,395.3 562.5,396.5 562.8,401.9 563.0,397.3 563.2,402.4 563.5,400.7 563.8,404.3 564.0,403.8 564.2,406.4 564.5,405.3 564.8,406.2 565.0,404.1 565.2,405.7 565.5,404.1 565.8,400.9 566.0,399.0 566.2,399.2 566.5,404.0 566.8,395.8 567.0,403.1 567.2,400.5 567.5,404.7 567.8,403.2 568.0,400.5 568.2,402.7 568.5,396.1 568.8,403.4 569.0,404.0 569.2,397.4 569.5,405.1 569.8,402.3 570.0,403.1 570.2,398.6 570.5,404.4 570.8,404.3 571.0,402.6 571.2,399.8 571.5,404.8 571.8,406.2 572.0,403.8 572.2,405.5 572.5,401.0 572.8,403.1 573.0,403.7 573.2,403.1 573.5,410.7 573.8,403.9 574.0,401.0 574.2,405.0 574.5,399.6 574.8,403.7 575.0,404.9 575.2,401.3 575.5,401.8 575.8,400.0 576.0,403.1 576.2,400.7 576.5,407.6 576.8,404.5 577.0,402.0 577.2,398.6 577.5,408.5 577.8,406.4 578.0,404.0 578.2,403.2 578.5,403.2 578.8,401.3 579.0,408.1 579.2,403.3 579.5,398.5 579.8,400.8 580.0,395.3 580.2,404.5 580.5,404.8 580.8,407.7 581.0,408.6 581.2,400.4 581.5,403.9 581.8,405.4 582.0,404.9 582.2,401.1 582.5,404.9 582.8,404.0 583.0,406.4 583.2,402.5 583.5,401.8 583.8,401.0 584.0,401.4 584.2,400.3 584.5,401.5 584.8,403.9 585.0,403.8 585.2,406.2 585.5,405.5 585.8,404.2 586.0,399.1 586.2,404.0 586.5,405.7 586.8,398.6 587.0,399.1 587.2,399.6 587.5,399.3 587.8,401.4 588.0,399.6 588.2,403.3 588.5,398.7 588.8,401.8 589.0,400.7 589.2,399.4 589.5,405.1 589.8,402.2 590.0,403.7"/>
</g>

<g stroke="#111" stroke-width="1.6" fill="none">
<rect x="41.3" y="0.8" width="550.1" height="443.6"/>
<line x1="41.3" y1="411.3" x2="591.4" y2="411.3"/>
<line x1="41.5" y1="444" x2="41.5" y2="449.5"/><line x1="91.5" y1="444" x2="91.5" y2="453.5"/><line x1="141.5" y1="444" x2="141.5" y2="449.5"/><line x1="191.5" y1="444" x2="191.5" y2="453.5"/><line x1="241.5" y1="444" x2="241.5" y2="449.5"/><line x1="291.5" y1="444" x2="291.5" y2="453.5"/><line x1="341.5" y1="444" x2="341.5" y2="449.5"/><line x1="391.5" y1="444" x2="391.5" y2="453.5"/><line x1="441.5" y1="444" x2="441.5" y2="449.5"/><line x1="491.5" y1="444" x2="491.5" y2="453.5"/><line x1="541.5" y1="444" x2="541.5" y2="449.5"/><line x1="591.5" y1="444" x2="591.5" y2="453.5"/>
</g>
<g font-size="19.5">
<text x="91.5" y="473.5" text-anchor="middle">30</text><text x="191.5" y="473.5" text-anchor="middle">40</text><text x="291.5" y="473.5" text-anchor="middle">50</text><text x="391.5" y="473.5" text-anchor="middle">60</text><text x="491.5" y="473.5" text-anchor="middle">70</text><text x="591.5" y="473.5" text-anchor="middle">80</text>
</g>
<g font-size="19.5">
<text x="174" y="66.7">Rh(111)</text>
<text x="236.5" y="148.3">Rh(200)</text>
<text x="456" y="179">Rh(220)</text>
</g>
<g font-size="26">
<text x="562" y="201">c)</text>
<text x="558" y="312.5">b)</text>
<text x="559" y="388.7">a)</text>
</g>
<text x="388" y="435.7" font-size="19">Rh (JCPDS#01-1214)</text>
<text x="295" y="505" font-size="27">2θ/°</text>
<text transform="translate(18.8,308.8) rotate(-90)" font-size="27">Intensity(a.u.)</text>
</svg>
</body></html>
